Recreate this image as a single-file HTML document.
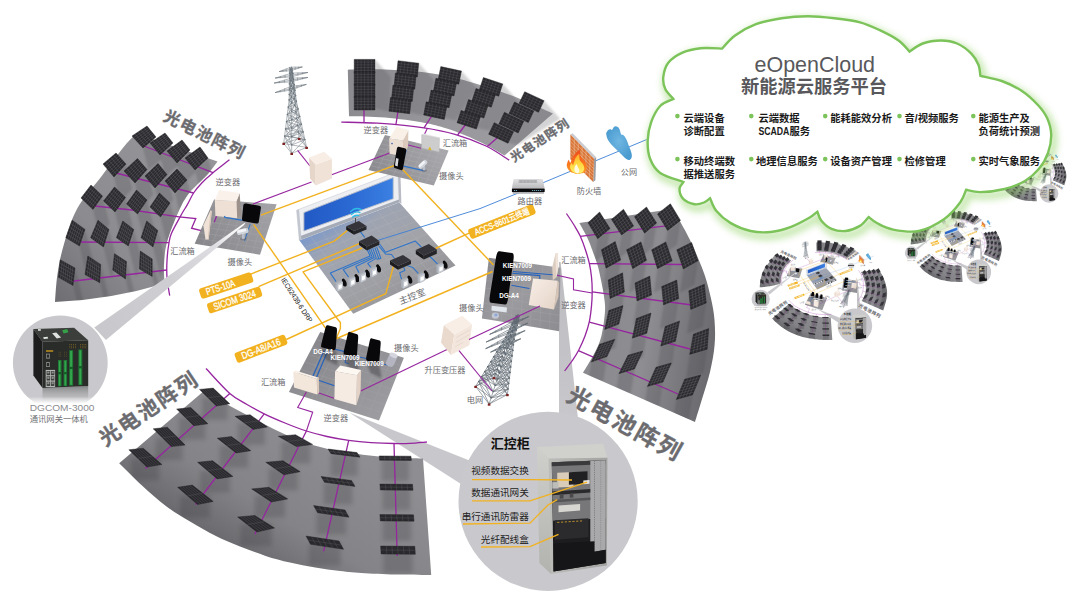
<!DOCTYPE html>
<html lang="zh-CN">
<head>
<meta charset="utf-8">
<title>eOpenCloud 新能源云服务平台</title>
<style>html,body{margin:0;padding:0;background:#fff}body{width:1087px;height:604px;overflow:hidden}svg{display:block}text{font-family:"Liberation Sans", "Noto Sans CJK SC", sans-serif}</style>
</head>
<body>
<svg width="1087" height="604" viewBox="0 0 1087 604">
<defs>
<linearGradient id="gL" gradientUnits="userSpaceOnUse" x1="60" y1="300" x2="215" y2="160"><stop offset="0" stop-color="#707074"/><stop offset=".35" stop-color="#8c8c90"/><stop offset="1" stop-color="#96969a"/></linearGradient>
<linearGradient id="gT" gradientUnits="userSpaceOnUse" x1="350" y1="90" x2="550" y2="130"><stop offset="0" stop-color="#8c8c90"/><stop offset=".5" stop-color="#99999d"/><stop offset="1" stop-color="#9d9da1"/></linearGradient>
<linearGradient id="gR" gradientUnits="userSpaceOnUse" x1="585" y1="300" x2="715" y2="320"><stop offset="0" stop-color="#8a8a8e"/><stop offset=".5" stop-color="#8e8e92"/><stop offset="1" stop-color="#6c6c70"/></linearGradient>
<linearGradient id="gB" gradientUnits="userSpaceOnUse" x1="330" y1="440" x2="250" y2="570"><stop offset="0" stop-color="#8e8e92"/><stop offset=".6" stop-color="#848488"/><stop offset="1" stop-color="#66666a"/></linearGradient>
<filter id="blur2" x="-30%" y="-30%" width="160%" height="160%"><feGaussianBlur stdDeviation="2"/></filter>
<filter id="blur1" x="-30%" y="-30%" width="160%" height="160%"><feGaussianBlur stdDeviation="1.2"/></filter>
<filter id="blur3" x="-30%" y="-30%" width="160%" height="160%"><feGaussianBlur stdDeviation="3.5"/></filter>
<linearGradient id="gScr" x1="0" y1="0" x2="1" y2="0"><stop offset="0" stop-color="#2259c4"/><stop offset=".5" stop-color="#2a68d2"/><stop offset="1" stop-color="#3b80e2"/></linearGradient>
<linearGradient id="gFloor" gradientUnits="userSpaceOnUse" x1="340" y1="215" x2="400" y2="300"><stop offset="0" stop-color="#7f9ac8"/><stop offset=".22" stop-color="#9ea4b2"/><stop offset=".6" stop-color="#a2a3a8"/><stop offset="1" stop-color="#97979b"/></linearGradient>
<linearGradient id="gBeam1" gradientUnits="userSpaceOnUse" x1="243" y1="224" x2="100" y2="335"><stop offset="0" stop-color="#ffffff"/><stop offset=".1" stop-color="#f2f2f4"/><stop offset=".2" stop-color="#dedee2"/><stop offset=".5" stop-color="#cfcfd3"/><stop offset="1" stop-color="#c8c8cc"/></linearGradient>
<linearGradient id="gBeam2" gradientUnits="userSpaceOnUse" x1="560" y1="262" x2="565" y2="420"><stop offset="0" stop-color="#bdbdc1"/><stop offset="1" stop-color="#c8c8cc"/></linearGradient>
<linearGradient id="gPT" gradientUnits="userSpaceOnUse" x1="440" y1="145" x2="375" y2="175"><stop offset="0" stop-color="#a8a8ac"/><stop offset="1" stop-color="#8c8c90"/></linearGradient><linearGradient id="gPL" gradientUnits="userSpaceOnUse" x1="270" y1="205" x2="200" y2="245"><stop offset="0" stop-color="#a2a2a6"/><stop offset="1" stop-color="#88888c"/></linearGradient><linearGradient id="gPB" gradientUnits="userSpaceOnUse" x1="325" y1="335" x2="375" y2="415"><stop offset="0" stop-color="#88888c"/><stop offset="1" stop-color="#9c9ca0"/></linearGradient>
<linearGradient id="gPR" gradientUnits="userSpaceOnUse" x1="490" y1="260" x2="555" y2="330"><stop offset="0" stop-color="#8a8a8e"/><stop offset=".5" stop-color="#9b9b9f"/><stop offset="1" stop-color="#8e8e92"/></linearGradient>
<linearGradient id="gInvR" x1="0" y1="0" x2="1" y2="1"><stop offset="0" stop-color="#f8efe8"/><stop offset="1" stop-color="#e4d3c6"/></linearGradient>
<linearGradient id="gRt" x1="0" y1="0" x2="0" y2="1"><stop offset="0" stop-color="#f2f2f4"/><stop offset=".55" stop-color="#c2c4c8"/><stop offset=".56" stop-color="#1c1c20"/><stop offset="1" stop-color="#2a2a30"/></linearGradient>
<linearGradient id="gFl" x1="0" y1="1" x2="0" y2="0"><stop offset="0" stop-color="#ffe680"/><stop offset=".45" stop-color="#ff9a1f"/><stop offset="1" stop-color="#f0521c"/></linearGradient>
<linearGradient id="gPc" x1="0" y1="0" x2="1" y2="1"><stop offset="0" stop-color="#3f97d6"/><stop offset="1" stop-color="#6cb8e6"/></linearGradient>
<linearGradient id="gRt2" x1="0" y1="0" x2="0" y2="1"><stop offset="0" stop-color="#e4e4e6"/><stop offset="1" stop-color="#b9b9bc"/></linearGradient>
<linearGradient id="gFl2" x1="0" y1="1" x2="0" y2="0"><stop offset="0" stop-color="#ff9c20"/><stop offset=".5" stop-color="#f8701e"/><stop offset="1" stop-color="#ee4a1c"/></linearGradient><linearGradient id="gFl3" x1="0" y1="1" x2="0" y2="0"><stop offset="0" stop-color="#fff06a"/><stop offset=".6" stop-color="#ffd23a"/><stop offset="1" stop-color="#ffa52a"/></linearGradient>
<radialGradient id="gPc2" cx=".5" cy=".45" r=".55"><stop offset="0" stop-color="#6fb6e2"/><stop offset="1" stop-color="#4a9bd0"/></radialGradient>
<linearGradient id="gRef" x1="0" y1="0" x2="0" y2="1"><stop offset="0" stop-color="#4a4c4a" stop-opacity=".55"/><stop offset="1" stop-color="#c8c8cc" stop-opacity="0"/></linearGradient>
<linearGradient id="gFade" x1="0" y1="0" x2="0" y2="1"><stop offset="0" stop-color="#fff" stop-opacity="0"/><stop offset=".45" stop-color="#fff" stop-opacity="1"/><stop offset="1" stop-color="#fff"/></linearGradient>
<linearGradient id="gCab" x1="0" y1="0" x2="1" y2="0"><stop offset="0" stop-color="#bcbcb9"/><stop offset="1" stop-color="#a2a2a0"/></linearGradient>
<linearGradient id="gCabS" x1="0" y1="0" x2="0" y2="1"><stop offset="0" stop-color="#cfcfcb"/><stop offset="1" stop-color="#b2b2ae"/></linearGradient>
<path id="cloudp" d="M673.4,99 C672,97.3 667,92.7 665.3,89 C663.6,85.3 662.8,81.3 663.3,76.9 C663.8,72.5 665.1,66.8 668.3,62.7 C671.5,58.7 677.1,55 682.5,52.6 C687.9,50.2 694.1,48.9 700.7,48.2 C707.3,47.5 718.5,48.5 722,48.6 C724.2,46.4 729.5,39.4 735.1,35.4 C740.7,31.3 747.6,27.2 755.4,24.3 C763.2,21.4 772.9,19.6 781.7,18.2 C790.5,16.8 799.2,16.2 808,16.2 C816.8,16.2 825.6,17.2 834.3,18.2 C843,19.2 852.4,20.3 860,22.3 C867.6,24.3 873.8,27.4 880.2,30.4 C886.6,33.4 893.6,37 898.5,40.5 C903.4,44 907.8,49.8 909.6,51.6 C911.8,50.2 917.5,45.4 922.7,43.5 C927.9,41.6 935.3,40.5 941,40.5 C946.7,40.5 952.1,41.3 957.1,43.5 C962.1,45.7 967.8,50.1 971.3,53.6 C974.8,57.1 976.9,61.1 978.4,64.8 C979.9,68.5 980.1,74.1 980.4,75.9 C984,76.8 994.8,78.5 1001.7,81 C1008.6,83.5 1015.8,87 1021.9,91 C1028,95 1033.9,100.7 1038.1,105.2 C1042.3,109.7 1044.9,113.1 1047.1,118 C1049.3,122.9 1051,128.6 1051.2,134.4 C1051.4,140.2 1050.1,146.9 1048.1,152.6 C1046.1,158.3 1042.9,164.1 1039,168.8 C1035.1,173.5 1030.6,177.6 1024.9,181 C1019.2,184.4 1012,187.2 1004.6,189 C997.2,190.8 986.7,192 980.3,192.1 C973.9,192.2 968.5,190.2 966.1,189.8 C965.1,191.9 963.9,197.4 960.3,202.3 C956.7,207.2 951.2,214.2 944.3,219 C937.4,223.8 927.3,229.2 918.8,231 C910.3,232.8 900.1,230.9 893.2,229.6 C886.3,228.3 881.4,225.4 877.3,223.3 C873.2,221.2 870,218.1 868.6,217 C867.1,218.5 863.7,223.6 859.9,225.9 C856.1,228.2 850.4,230.5 845.7,231 C841,231.5 835.7,230.6 831.6,228.9 C827.5,227.2 823.8,223.7 821.4,220.8 C819,217.9 818.1,213.2 817.4,211.7 C816,212.7 813.7,215.3 809.3,217.8 C804.9,220.3 797.5,224.5 791.1,226.9 C784.7,229.3 777.5,231.3 770.8,232 C764,232.7 757.3,232.5 750.6,231 C743.9,229.5 736.1,226.3 730.4,222.9 C724.7,219.5 719.6,214.8 716.2,210.7 C712.8,206.6 711.1,200.3 710.1,198.2 C709.1,198.9 706.6,201.5 704,202.5 C701.4,203.5 698,204.8 694.6,204.2 C691.2,203.6 686,201.7 683.5,199.2 C681,196.7 679.5,191.9 679.5,189 C679.5,186.1 682.8,183.2 683.5,182 C679.6,180.5 665.8,176.8 660.2,172.9 C654.6,169 652.2,164.1 650.1,158.7 C648,153.3 647.5,146.6 647.7,140.5 C647.9,134.4 649,128.1 651.1,122.3 C653.2,116.5 656.5,109.9 660.2,106 C663.9,102.1 671.2,100.2 673.4,99Z"/>
</defs>
<rect width="1087" height="604" fill="#fff"/>
<g id="main">
<circle cx="60.3" cy="362.8" r="47.4" fill="#c9c9cd"/>
<polygon points="559,262 560.6,262 579.5,432 559,432" fill="url(#gBeam2)"/>
<polygon points="349,412.5 482,465.5 472,491" fill="#c8c8cc"/>
<circle cx="548.1" cy="501.3" r="89.6" fill="#c9c9cd"/>
<clipPath id="cL"><path d="M136.5,133.5C134.5,135.6 130.2,139.1 124.5,146 C118.8,152.9 110.3,164.7 102.5,175 C94.7,185.3 83.9,196.5 77.5,208 C71.1,219.5 67.3,233 64,244 C60.7,255 59,264.3 57.5,274 C56,283.7 55.4,297.3 55,302 Q110,299.8 164.5,283.5 C164.4,280.4 163.7,271.6 164,265 C164.3,258.4 164.7,251.5 166.5,244 C168.3,236.5 171.6,228 175,220 C178.4,212 181.5,203.7 187,196 C192.5,188.3 202.9,179.7 208,174 C213.1,168.3 215.9,163.7 217.5,161.6Z"/></clipPath>
<path d="M136.5,133.5C134.5,135.6 130.2,139.1 124.5,146 C118.8,152.9 110.3,164.7 102.5,175 C94.7,185.3 83.9,196.5 77.5,208 C71.1,219.5 67.3,233 64,244 C60.7,255 59,264.3 57.5,274 C56,283.7 55.4,297.3 55,302 Q110,299.8 164.5,283.5 C164.4,280.4 163.7,271.6 164,265 C164.3,258.4 164.7,251.5 166.5,244 C168.3,236.5 171.6,228 175,220 C178.4,212 181.5,203.7 187,196 C192.5,188.3 202.9,179.7 208,174 C213.1,168.3 215.9,163.7 217.5,161.6Z" fill="url(#gL)"/>
<g clip-path="url(#cL)"><polygon points="156,137 143,148 148.5,170 161.5,159" fill="#3a3a40" opacity="0.2" filter="url(#blur1)"/><polygon points="173,143 160,155 165.5,177 178.5,165" fill="#3a3a40" opacity="0.2" filter="url(#blur1)"/><polygon points="190,150 177,163 182.5,185 195.5,172" fill="#3a3a40" opacity="0.2" filter="url(#blur1)"/><polygon points="208,158 195,170 200.5,192 213.5,180" fill="#3a3a40" opacity="0.2" filter="url(#blur1)"/><polygon points="126,164 114,177 120.2,202 132.2,189" fill="#3a3a40" opacity="0.2" filter="url(#blur1)"/><polygon points="147,169.5 135,183 141.2,208 153.2,194.5" fill="#3a3a40" opacity="0.2" filter="url(#blur1)"/><polygon points="167,174.5 155,188 161.2,213 173.2,199.5" fill="#3a3a40" opacity="0.2" filter="url(#blur1)"/><polygon points="187,180 175,193 181.2,218 193.2,205" fill="#3a3a40" opacity="0.2" filter="url(#blur1)"/><polygon points="102.5,196 93,209.5 100,237.5 109.5,224" fill="#3a3a40" opacity="0.2" filter="url(#blur1)"/><polygon points="125.5,197.5 115,212 122,240 132.5,225.5" fill="#3a3a40" opacity="0.2" filter="url(#blur1)"/><polygon points="147,200 137.5,214 144.5,242 154,228" fill="#3a3a40" opacity="0.2" filter="url(#blur1)"/><polygon points="170,203 160.5,217 167.5,245 177,231" fill="#3a3a40" opacity="0.2" filter="url(#blur1)"/><polygon points="85,229.4 79.5,246 87.2,277 92.8,260.4" fill="#3a3a40" opacity="0.2" filter="url(#blur1)"/><polygon points="109,229.4 103.5,247 111.2,278 116.8,260.4" fill="#3a3a40" opacity="0.2" filter="url(#blur1)"/><polygon points="133.8,229.4 128.3,246 136.1,277 141.6,260.4" fill="#3a3a40" opacity="0.2" filter="url(#blur1)"/><polygon points="157.8,230.4 153,247 160.8,278 165.6,261.4" fill="#3a3a40" opacity="0.2" filter="url(#blur1)"/><polygon points="75,268 73,285.5 81.5,319.5 83.5,302" fill="#3a3a40" opacity="0.2" filter="url(#blur1)"/><polygon points="100.7,264.4 99.8,282.8 108.3,316.8 109.2,298.4" fill="#3a3a40" opacity="0.2" filter="url(#blur1)"/><polygon points="126.5,261.6 125.5,279 134,313 135,295.6" fill="#3a3a40" opacity="0.2" filter="url(#blur1)"/><polygon points="152.2,259 152.2,276.4 160.7,310.4 160.7,293" fill="#3a3a40" opacity="0.2" filter="url(#blur1)"/></g>
<path d="M229.5,159.8C226.8,162 217.6,168.9 213,172.7 C208.4,176.5 205.2,179.4 202,182.8 C198.8,186.2 196.1,189.3 193.6,193 C191.1,196.7 189.2,201.4 187.2,204.9 C185.2,208.4 184.3,209.3 181.7,214 C179.1,218.7 173.8,228 171.6,233 C169.4,238 169.6,239.4 168.8,244 C168,248.6 167.3,255.1 167,260.7 C166.7,266.2 166.6,271.5 167,277.3 C167.4,283.1 169.2,292.6 169.7,295.7" fill="none" stroke="#96259f" stroke-width="1.3"/>
<polyline points="140,144.5 213,172.7" fill="none" stroke="#96259f" stroke-width="1.3"/>
<polyline points="112,172 193.6,193" fill="none" stroke="#96259f" stroke-width="1.3"/>
<polyline points="90,205.5 132,210 179,216.8" fill="none" stroke="#96259f" stroke-width="1.3"/>
<polyline points="76,242 168.8,242.7" fill="none" stroke="#96259f" stroke-width="1.3"/>
<polyline points="70,281.5 167,270" fill="none" stroke="#96259f" stroke-width="1.3"/>
<polyline points="179,216.8 195.8,218.6 191.6,228.2 203.4,231.2" fill="none" stroke="#96259f" stroke-width="1.3"/>
<polygon points="132,136 147,126 156,137 143,148" fill="#2a2a2e" stroke="#1e1e22" stroke-width="0.4"/><path d="M135,134L145.6,145.8M138,132L148.2,143.6M141,130L150.8,141.4M144,128L153.4,139.2M133.6,137.7L148.3,127.6M135.1,139.4L149.6,129.1M136.7,141.1L150.9,130.7M138.3,142.9L152.1,132.3M139.9,144.6L153.4,133.9M141.4,146.3L154.7,135.4" fill="none" stroke="#65656d" stroke-width="0.4"/>
<polygon points="150,143 165,133 173,143 160,155" fill="#2a2a2e" stroke="#1e1e22" stroke-width="0.4"/><path d="M153,141L162.6,152.6M156,139L165.2,150.2M159,137L167.8,147.8M162,135L170.4,145.4M151.4,144.7L166.1,134.4M152.9,146.4L167.3,135.9M154.3,148.1L168.4,137.3M155.7,149.9L169.6,138.7M157.1,151.6L170.7,140.1M158.6,153.3L171.9,141.6" fill="none" stroke="#65656d" stroke-width="0.4"/>
<polygon points="167,151 182,140 190,150 177,163" fill="#2a2a2e" stroke="#1e1e22" stroke-width="0.4"/><path d="M170,148.8L179.6,160.4M173,146.6L182.2,157.8M176,144.4L184.8,155.2M179,142.2L187.4,152.6M168.4,152.7L183.1,141.4M169.9,154.4L184.3,142.9M171.3,156.1L185.4,144.3M172.7,157.9L186.6,145.7M174.1,159.6L187.7,147.1M175.6,161.3L188.9,148.6" fill="none" stroke="#65656d" stroke-width="0.4"/>
<polygon points="185,158 200,147 208,158 195,170" fill="#2a2a2e" stroke="#1e1e22" stroke-width="0.4"/><path d="M188,155.8L197.6,167.6M191,153.6L200.2,165.2M194,151.4L202.8,162.8M197,149.2L205.4,160.4M186.4,159.7L201.1,148.6M187.9,161.4L202.3,150.1M189.3,163.1L203.4,151.7M190.7,164.9L204.6,153.3M192.1,166.6L205.7,154.9M193.6,168.3L206.9,156.4" fill="none" stroke="#65656d" stroke-width="0.4"/>
<polygon points="103,164 116,153 126,164 114,177" fill="#2a2a2e" stroke="#1e1e22" stroke-width="0.4"/><path d="M105.6,161.8L116.4,174.4M108.2,159.6L118.8,171.8M110.8,157.4L121.2,169.2M113.4,155.2L123.6,166.6M104.6,165.9L117.4,154.6M106.1,167.7L118.9,156.1M107.7,169.6L120.3,157.7M109.3,171.4L121.7,159.3M110.9,173.3L123.1,160.9M112.4,175.1L124.6,162.4" fill="none" stroke="#65656d" stroke-width="0.4"/>
<polygon points="124,171 137.5,158.5 147,169.5 135,183" fill="#2a2a2e" stroke="#1e1e22" stroke-width="0.4"/><path d="M126.7,168.5L137.4,180.3M129.4,166L139.8,177.6M132.1,163.5L142.2,174.9M134.8,161L144.6,172.2M125.6,172.7L138.9,160.1M127.1,174.4L140.2,161.6M128.7,176.1L141.6,163.2M130.3,177.9L142.9,164.8M131.9,179.6L144.3,166.4M133.4,181.3L145.6,167.9" fill="none" stroke="#65656d" stroke-width="0.4"/>
<polygon points="145,176 158,163.5 167,174.5 155,188" fill="#2a2a2e" stroke="#1e1e22" stroke-width="0.4"/><path d="M147.6,173.5L157.4,185.3M150.2,171L159.8,182.6M152.8,168.5L162.2,179.9M155.4,166L164.6,177.2M146.4,177.7L159.3,165.1M147.9,179.4L160.6,166.6M149.3,181.1L161.9,168.2M150.7,182.9L163.1,169.8M152.1,184.6L164.4,171.4M153.6,186.3L165.7,172.9" fill="none" stroke="#65656d" stroke-width="0.4"/>
<polygon points="165,181 177,169 187,180 175,193" fill="#2a2a2e" stroke="#1e1e22" stroke-width="0.4"/><path d="M167.4,178.6L177.4,190.4M169.8,176.2L179.8,187.8M172.2,173.8L182.2,185.2M174.6,171.4L184.6,182.6M166.4,182.7L178.4,170.6M167.9,184.4L179.9,172.1M169.3,186.1L181.3,173.7M170.7,187.9L182.7,175.3M172.1,189.6L184.1,176.9M173.6,191.3L185.6,178.4" fill="none" stroke="#65656d" stroke-width="0.4"/>
<polygon points="81,198 91,185 102.5,196 93,209.5" fill="#2a2a2e" stroke="#1e1e22" stroke-width="0.4"/><path d="M83,195.4L94.9,206.8M85,192.8L96.8,204.1M87,190.2L98.7,201.4M89,187.6L100.6,198.7M82.7,199.6L92.6,186.6M84.4,201.3L94.3,188.1M86.1,202.9L95.9,189.7M87.9,204.6L97.6,191.3M89.6,206.2L99.2,192.9M91.3,207.9L100.9,194.4" fill="none" stroke="#65656d" stroke-width="0.4"/>
<polygon points="103.5,201 114.5,187 125.5,197.5 115,212" fill="#2a2a2e" stroke="#1e1e22" stroke-width="0.4"/><path d="M105.7,198.2L117.1,209.1M107.9,195.4L119.2,206.2M110.1,192.6L121.3,203.3M112.3,189.8L123.4,200.4M105.1,202.6L116.1,188.5M106.8,204.1L117.6,190M108.4,205.7L119.2,191.5M110.1,207.3L120.8,193M111.7,208.9L122.4,194.5M113.4,210.4L123.9,196" fill="none" stroke="#65656d" stroke-width="0.4"/>
<polygon points="126.5,204 136.5,190 147,200 137.5,214" fill="#2a2a2e" stroke="#1e1e22" stroke-width="0.4"/><path d="M128.5,201.2L139.4,211.2M130.5,198.4L141.3,208.4M132.5,195.6L143.2,205.6M134.5,192.8L145.1,202.8M128.1,205.4L138,191.4M129.6,206.9L139.5,192.9M131.2,208.3L141,194.3M132.8,209.7L142.5,195.7M134.4,211.1L144,197.1M135.9,212.6L145.5,198.6" fill="none" stroke="#65656d" stroke-width="0.4"/>
<polygon points="150,207 159.5,193 170,203 160.5,217" fill="#2a2a2e" stroke="#1e1e22" stroke-width="0.4"/><path d="M151.9,204.2L162.4,214.2M153.8,201.4L164.3,211.4M155.7,198.6L166.2,208.6M157.6,195.8L168.1,205.8M151.5,208.4L161,194.4M153,209.9L162.5,195.9M154.5,211.3L164,197.3M156,212.7L165.5,198.7M157.5,214.1L167,200.1M159,215.6L168.5,201.6" fill="none" stroke="#65656d" stroke-width="0.4"/>
<polygon points="65.8,237.7 72.2,220.2 85,229.4 79.5,246" fill="#2a2a2e" stroke="#1e1e22" stroke-width="0.4"/><path d="M67.1,234.2L80.6,242.7M68.4,230.7L81.7,239.4M69.6,227.2L82.8,236M70.9,223.7L83.9,232.7M67.8,238.9L74,221.5M69.7,240.1L75.9,222.8M71.7,241.3L77.7,224.1M73.6,242.4L79.5,225.5M75.6,243.6L81.3,226.8M77.5,244.8L83.2,228.1" fill="none" stroke="#65656d" stroke-width="0.4"/>
<polygon points="90.6,237.7 98,220.2 109,229.4 103.5,247" fill="#2a2a2e" stroke="#1e1e22" stroke-width="0.4"/><path d="M92.1,234.2L104.6,243.5M93.6,230.7L105.7,240M95,227.2L106.8,236.4M96.5,223.7L107.9,232.9M92.4,239L99.6,221.5M94.3,240.4L101.1,222.8M96.1,241.7L102.7,224.1M98,243L104.3,225.5M99.8,244.3L105.9,226.8M101.7,245.7L107.4,228.1" fill="none" stroke="#65656d" stroke-width="0.4"/>
<polygon points="116.4,237.7 122.8,221 133.8,229.4 128.3,246" fill="#2a2a2e" stroke="#1e1e22" stroke-width="0.4"/><path d="M117.7,234.4L129.4,242.7M119,231L130.5,239.4M120.2,227.7L131.6,236M121.5,224.3L132.7,232.7M118.1,238.9L124.4,222.2M119.8,240.1L125.9,223.4M121.5,241.3L127.5,224.6M123.2,242.4L129.1,225.8M124.9,243.6L130.7,227M126.6,244.8L132.2,228.2" fill="none" stroke="#65656d" stroke-width="0.4"/>
<polygon points="141,237.7 146.7,221 157.8,230.4 153,247" fill="#2a2a2e" stroke="#1e1e22" stroke-width="0.4"/><path d="M142.1,234.4L154,243.7M143.3,231L154.9,240.4M144.4,227.7L155.9,237M145.6,224.3L156.8,233.7M142.7,239L148.3,222.3M144.4,240.4L149.9,223.7M146.1,241.7L151.5,225M147.9,243L153,226.4M149.6,244.3L154.6,227.7M151.3,245.7L156.2,229.1" fill="none" stroke="#65656d" stroke-width="0.4"/>
<polygon points="58.4,277.3 60.2,259.8 75,268 73,285.5" fill="#2a2a2e" stroke="#1e1e22" stroke-width="0.4"/><path d="M58.8,273.8L73.4,282M59.1,270.3L73.8,278.5M59.5,266.8L74.2,275M59.8,263.3L74.6,271.5M60.5,278.5L62.3,261M62.6,279.6L64.4,262.1M64.7,280.8L66.5,263.3M66.7,282L68.7,264.5M68.8,283.2L70.8,265.7M70.9,284.3L72.9,266.8" fill="none" stroke="#65656d" stroke-width="0.4"/>
<polygon points="85,274.5 87.8,256 100.7,264.4 99.8,282.8" fill="#2a2a2e" stroke="#1e1e22" stroke-width="0.4"/><path d="M85.6,270.8L100,279.1M86.1,267.1L100.2,275.4M86.7,263.4L100.3,271.8M87.2,259.7L100.5,268.1M87.1,275.7L89.6,257.2M89.2,276.9L91.5,258.4M91.3,278.1L93.3,259.6M93.5,279.2L95.2,260.8M95.6,280.4L97,262M97.7,281.6L98.9,263.2" fill="none" stroke="#65656d" stroke-width="0.4"/>
<polygon points="112.7,270 114.5,253.7 126.5,261.6 125.5,279" fill="#2a2a2e" stroke="#1e1e22" stroke-width="0.4"/><path d="M113.1,266.7L125.7,275.5M113.4,263.5L125.9,272M113.8,260.2L126.1,268.6M114.1,257L126.3,265.1M114.5,271.3L116.2,254.8M116.4,272.6L117.9,256M118.2,273.9L119.6,257.1M120,275.1L121.4,258.2M121.8,276.4L123.1,259.3M123.7,277.7L124.8,260.5" fill="none" stroke="#65656d" stroke-width="0.4"/>
<polygon points="139.4,269 140.3,251 152.2,259 152.2,276.4" fill="#2a2a2e" stroke="#1e1e22" stroke-width="0.4"/><path d="M139.6,265.4L152.2,272.9M139.8,261.8L152.2,269.4M139.9,258.2L152.2,266M140.1,254.6L152.2,262.5M141.2,270.1L142,252.1M143.1,271.1L143.7,253.3M144.9,272.2L145.4,254.4M146.7,273.2L147.1,255.6M148.5,274.3L148.8,256.7M150.4,275.3L150.5,257.9" fill="none" stroke="#65656d" stroke-width="0.4"/>
<path d="M347.8,69.7C354,69.7 372.3,69.1 385,69.5 C397.7,69.9 412.3,70.9 424,72.3 C435.7,73.7 445.5,75.8 455,78 C464.5,80.2 470.3,81.9 480.8,85.2 C491.3,88.5 506,93.3 518,98 C530,102.7 547.2,111 553,113.6 L504.5,155.5C501.6,153.8 493.6,148.9 487,145.5 C480.4,142.1 472,138.2 465,135.3 C458,132.4 451.8,130.1 445,128 C438.2,125.9 434,124.5 424,122.7 C414,121 397.5,118.6 385,117.5 C372.5,116.4 355,116.4 349,116.2Z" fill="url(#gT)"/>
<path d="M341.3,122.1C347.3,122.3 363.7,122.2 377.5,123.2 C391.3,124.2 411.1,125.9 424,127.8 C436.9,129.7 444.7,131.3 455,134.3 C465.3,137.3 477,141.7 486,146 C495,150.3 505.3,157.8 509.2,160.1" fill="none" stroke="#96259f" stroke-width="1.3"/>
<polyline points="364,105 364,122.6" fill="none" stroke="#96259f" stroke-width="1.3"/>
<polyline points="398.5,108 396,124.2" fill="none" stroke="#96259f" stroke-width="1.3"/>
<polyline points="433,114 424,127.8" fill="none" stroke="#96259f" stroke-width="1.3"/>
<polyline points="466,124 457.6,135" fill="none" stroke="#96259f" stroke-width="1.3"/>
<polyline points="497,138 487.3,146.5" fill="none" stroke="#96259f" stroke-width="1.3"/>
<polygon points="375,59.4 375,108.5 389,111.5 391,77.4" fill="#55555a" opacity="0.25" filter="url(#blur1)"/>
<polygon points="418.8,63.2 408.5,112.3 422.5,115.3 434.8,81.2" fill="#55555a" opacity="0.25" filter="url(#blur1)"/>
<polygon points="461.5,71 442,117.5 456,120.5 477.5,89" fill="#55555a" opacity="0.25" filter="url(#blur1)"/>
<polygon points="502.8,83.9 475.7,127.8 489.7,130.8 518.8,101.9" fill="#55555a" opacity="0.25" filter="url(#blur1)"/>
<polygon points="544.1,100.7 504,142 518,145 560.1,118.7" fill="#55555a" opacity="0.25" filter="url(#blur1)"/>
<polygon points="354.2,59.4 375,59.4 375,73.1 354.2,73.1" fill="#2a2a2e" stroke="#1e1e22" stroke-width="0.4"/><path d="M357.7,59.4L357.7,73.1M361.1,59.4L361.1,73.1M364.6,59.4L364.6,73.1M368.1,59.4L368.1,73.1M371.5,59.4L371.5,73.1M354.2,62.1L375,62.1M354.2,64.9L375,64.9M354.2,67.6L375,67.6M354.2,70.4L375,70.4" fill="none" stroke="#65656d" stroke-width="0.3"/>
<polygon points="354.2,71.7 375,71.7 375,85.4 354.2,85.4" fill="#2a2a2e" stroke="#1e1e22" stroke-width="0.4"/><path d="M357.7,71.7L357.7,85.4M361.1,71.7L361.1,85.4M364.6,71.7L364.6,85.4M368.1,71.7L368.1,85.4M371.5,71.7L371.5,85.4M354.2,74.4L375,74.4M354.2,77.2L375,77.2M354.2,79.9L375,79.9M354.2,82.7L375,82.7" fill="none" stroke="#65656d" stroke-width="0.3"/>
<polygon points="354.2,84 375,84 375,97.7 354.2,97.7" fill="#2a2a2e" stroke="#1e1e22" stroke-width="0.4"/><path d="M357.7,84L357.7,97.7M361.1,84L361.1,97.7M364.6,84L364.6,97.7M368.1,84L368.1,97.7M371.5,84L371.5,97.7M354.2,86.7L375,86.7M354.2,89.4L375,89.4M354.2,92.2L375,92.2M354.2,94.9L375,94.9" fill="none" stroke="#65656d" stroke-width="0.3"/>
<polygon points="354.2,96.2 375,96.2 375,110 354.2,110" fill="#2a2a2e" stroke="#1e1e22" stroke-width="0.4"/><path d="M357.7,96.2L357.7,110M361.1,96.2L361.1,110M364.6,96.2L364.6,110M368.1,96.2L368.1,110M371.5,96.2L371.5,110M354.2,99L375,99M354.2,101.7L375,101.7M354.2,104.5L375,104.5M354.2,107.2L375,107.2" fill="none" stroke="#65656d" stroke-width="0.3"/>
<polygon points="398,60.7 418.8,63.2 417.4,76.9 396.6,74.4" fill="#2a2a2e" stroke="#1e1e22" stroke-width="0.4"/><path d="M401.5,61.1L400.1,74.8M404.9,61.5L403.5,75.3M408.4,62L407,75.7M411.9,62.4L410.5,76.1M415.3,62.8L413.9,76.5M397.7,63.4L418.5,65.9M397.4,66.2L418.2,68.7M397.2,68.9L418,71.4M396.9,71.7L417.7,74.2" fill="none" stroke="#65656d" stroke-width="0.3"/>
<polygon points="395.4,73 416.2,75.5 414.8,89.2 394,86.7" fill="#2a2a2e" stroke="#1e1e22" stroke-width="0.4"/><path d="M398.9,73.4L397.5,87.1M402.4,73.8L401,87.5M405.9,74.2L404.4,87.9M409.3,74.6L407.9,88.3M412.8,75L411.4,88.8M395.2,75.7L416,78.2M394.9,78.4L415.7,80.9M394.6,81.2L415.4,83.7M394.3,83.9L415.1,86.4" fill="none" stroke="#65656d" stroke-width="0.3"/>
<polygon points="392.9,85.2 413.7,87.7 412.3,101.4 391.5,98.9" fill="#2a2a2e" stroke="#1e1e22" stroke-width="0.4"/><path d="M396.4,85.6L395,99.3M399.8,86L398.4,99.8M403.3,86.5L401.9,100.2M406.8,86.9L405.4,100.6M410.2,87.3L408.8,101M392.6,87.9L413.4,90.4M392.3,90.7L413.1,93.2M392.1,93.4L412.9,95.9M391.8,96.2L412.6,98.7" fill="none" stroke="#65656d" stroke-width="0.3"/>
<polygon points="390.4,97.5 411.2,100 409.7,113.7 388.9,111.2" fill="#2a2a2e" stroke="#1e1e22" stroke-width="0.4"/><path d="M393.8,97.9L392.4,111.6M397.3,98.3L395.9,112M400.8,98.7L399.3,112.4M404.2,99.1L402.8,112.8M407.7,99.5L406.3,113.3M390.1,100.2L410.9,102.7M389.8,102.9L410.6,105.4M389.5,105.7L410.3,108.2M389.2,108.4L410,110.9" fill="none" stroke="#65656d" stroke-width="0.3"/>
<polygon points="440.8,66.6 461.5,71 458.8,84.2 438.1,79.8" fill="#2a2a2e" stroke="#1e1e22" stroke-width="0.4"/><path d="M444.2,67.3L441.6,80.5M447.7,68.1L445,81.2M451.1,68.8L448.5,82M454.6,69.5L451.9,82.7M458.1,70.3L455.4,83.4M440.3,69.2L461,73.6M439.7,71.9L460.4,76.3M439.2,74.5L459.9,78.9M438.7,77.1L459.4,81.5" fill="none" stroke="#65656d" stroke-width="0.3"/>
<polygon points="435.9,78.3 456.6,82.8 454,95.9 433.3,91.5" fill="#2a2a2e" stroke="#1e1e22" stroke-width="0.4"/><path d="M439.4,79.1L436.7,92.2M442.8,79.8L440.2,93M446.3,80.5L443.6,93.7M449.8,81.3L447.1,94.4M453.2,82L450.5,95.2M435.4,81L456.1,85.4M434.9,83.6L455.6,88M434.3,86.2L455,90.6M433.8,88.9L454.5,93.3" fill="none" stroke="#65656d" stroke-width="0.3"/>
<polygon points="431.1,90.1 451.8,94.5 449.1,107.7 428.4,103.3" fill="#2a2a2e" stroke="#1e1e22" stroke-width="0.4"/><path d="M434.6,90.8L431.9,104M438,91.6L435.3,104.7M441.5,92.3L438.8,105.5M444.9,93L442.2,106.2M448.4,93.8L445.7,106.9M430.6,92.7L451.3,97.1M430,95.4L450.7,99.8M429.5,98L450.2,102.4M429,100.6L449.7,105" fill="none" stroke="#65656d" stroke-width="0.3"/>
<polygon points="426.2,101.8 446.9,106.2 444.3,119.4 423.6,115" fill="#2a2a2e" stroke="#1e1e22" stroke-width="0.4"/><path d="M429.7,102.6L427,115.7M433.1,103.3L430.5,116.5M436.6,104L433.9,117.2M440.1,104.8L437.4,117.9M443.5,105.5L440.8,118.7M425.7,104.5L446.4,108.9M425.2,107.1L445.9,111.5M424.6,109.7L445.3,114.1M424.1,112.4L444.8,116.8" fill="none" stroke="#65656d" stroke-width="0.3"/>
<polygon points="483.4,77.5 502.8,83.9 498.7,96.2 479.3,89.8" fill="#2a2a2e" stroke="#1e1e22" stroke-width="0.4"/><path d="M486.6,78.6L482.5,90.9M489.9,79.6L485.8,91.9M493.1,80.7L489,93M496.3,81.8L492.2,94.1M499.6,82.8L495.5,95.1M482.6,80L502,86.4M481.8,82.4L501.2,88.8M480.9,84.9L500.3,91.3M480.1,87.3L499.5,93.7" fill="none" stroke="#65656d" stroke-width="0.3"/>
<polygon points="476,88.5 495.4,94.9 491.3,107.2 471.9,100.8" fill="#2a2a2e" stroke="#1e1e22" stroke-width="0.4"/><path d="M479.2,89.5L475.1,101.8M482.4,90.6L478.4,102.9M485.7,91.7L481.6,104M488.9,92.7L484.8,105M492.1,93.8L488.1,106.1M475.2,90.9L494.6,97.3M474.3,93.4L493.7,99.8M473.5,95.9L492.9,102.3M472.7,98.3L492.1,104.7" fill="none" stroke="#65656d" stroke-width="0.3"/>
<polygon points="468.5,99.5 487.9,105.9 483.9,118.1 464.5,111.7" fill="#2a2a2e" stroke="#1e1e22" stroke-width="0.4"/><path d="M471.8,100.5L467.7,112.8M475,101.6L470.9,113.9M478.2,102.7L474.2,114.9M481.5,103.7L477.4,116M484.7,104.8L480.6,117.1M467.7,101.9L487.1,108.3M466.9,104.4L486.3,110.8M466.1,106.8L485.5,113.2M465.3,109.3L484.7,115.7" fill="none" stroke="#65656d" stroke-width="0.3"/>
<polygon points="461.1,110.4 480.5,116.8 476.4,129.1 457,122.7" fill="#2a2a2e" stroke="#1e1e22" stroke-width="0.4"/><path d="M464.4,111.5L460.3,123.8M467.6,112.6L463.5,124.9M470.8,113.6L466.7,125.9M474.1,114.7L470,127M477.3,115.8L473.2,128.1M460.3,112.9L479.7,119.3M459.5,115.3L478.9,121.7M458.7,117.8L478.1,124.2M457.9,120.3L477.3,126.7" fill="none" stroke="#65656d" stroke-width="0.3"/>
<polygon points="524.7,91.7 544.1,100.7 538.5,112.3 519.1,103.3" fill="#2a2a2e" stroke="#1e1e22" stroke-width="0.4"/><path d="M527.9,93.2L522.3,104.8M531.2,94.7L525.6,106.3M534.4,96.2L528.8,107.8M537.6,97.7L532,109.3M540.9,99.2L535.3,110.8M523.6,94L543,103M522.5,96.3L541.9,105.3M521.3,98.6L540.7,107.6M520.2,101L539.6,110" fill="none" stroke="#65656d" stroke-width="0.3"/>
<polygon points="514.5,102 533.9,111 528.3,122.6 508.9,113.6" fill="#2a2a2e" stroke="#1e1e22" stroke-width="0.4"/><path d="M517.8,103.5L512.2,115.1M521,105L515.4,116.6M524.2,106.5L518.6,118.1M527.5,108L521.9,119.6M530.7,109.5L525.1,121.1M513.4,104.3L532.8,113.3M512.3,106.7L531.7,115.7M511.2,109L530.6,118M510,111.3L529.4,120.3" fill="none" stroke="#65656d" stroke-width="0.3"/>
<polygon points="504.4,112.3 523.8,121.3 518.2,132.9 498.8,123.9" fill="#2a2a2e" stroke="#1e1e22" stroke-width="0.4"/><path d="M507.6,113.8L502,125.4M510.8,115.3L505.2,126.9M514,116.8L508.5,128.4M517.3,118.3L511.7,129.9M520.5,119.8L514.9,131.4M503.2,114.7L522.6,123.7M502.1,117L521.5,126M501,119.3L520.4,128.3M499.9,121.6L519.3,130.6" fill="none" stroke="#65656d" stroke-width="0.3"/>
<polygon points="494.2,122.7 513.6,131.7 508,143.2 488.6,134.2" fill="#2a2a2e" stroke="#1e1e22" stroke-width="0.4"/><path d="M497.4,124.2L491.8,135.7M500.6,125.7L495,137.2M503.9,127.2L498.3,138.7M507.1,128.7L501.5,140.2M510.3,130.2L504.7,141.7M493.1,125L512.5,134M491.9,127.3L511.3,136.3M490.8,129.6L510.2,138.6M489.7,131.9L509.1,140.9" fill="none" stroke="#65656d" stroke-width="0.3"/>
<clipPath id="cR"><path d="M579.3,223C580.6,225.3 584.8,232.4 587,237 C589.2,241.6 590.8,246 592.5,250.7 C594.2,255.4 596.1,260.4 597.5,265 C598.9,269.6 599.6,273.3 600.6,278.3 C601.6,283.3 603.1,289.6 603.8,295 C604.5,300.4 605.4,304.2 605,311 C604.6,317.8 603.2,328.8 601.4,336 C599.6,343.2 597.1,347.9 594,354 C590.9,360.1 584.8,369.7 583,372.8 L695,422C696.1,418.3 699.2,408.3 701.7,400 C704.2,391.7 707.9,381.2 710,372 C712.1,362.8 713.9,353.7 714.6,345 C715.4,336.3 715.1,327.7 714.5,320 C713.9,312.3 712.6,305.9 711,298.6 C709.4,291.3 707.2,282.8 705,276 C702.8,269.2 700.5,264 698,258 C695.5,252 692.9,246 690,240 C687.1,234 683.5,227.4 680.5,222.2 C677.5,217 673.4,211.2 672,209Z"/></clipPath>
<path d="M579.3,223C580.6,225.3 584.8,232.4 587,237 C589.2,241.6 590.8,246 592.5,250.7 C594.2,255.4 596.1,260.4 597.5,265 C598.9,269.6 599.6,273.3 600.6,278.3 C601.6,283.3 603.1,289.6 603.8,295 C604.5,300.4 605.4,304.2 605,311 C604.6,317.8 603.2,328.8 601.4,336 C599.6,343.2 597.1,347.9 594,354 C590.9,360.1 584.8,369.7 583,372.8 L695,422C696.1,418.3 699.2,408.3 701.7,400 C704.2,391.7 707.9,381.2 710,372 C712.1,362.8 713.9,353.7 714.6,345 C715.4,336.3 715.1,327.7 714.5,320 C713.9,312.3 712.6,305.9 711,298.6 C709.4,291.3 707.2,282.8 705,276 C702.8,269.2 700.5,264 698,258 C695.5,252 692.9,246 690,240 C687.1,234 683.5,227.4 680.5,222.2 C677.5,217 673.4,211.2 672,209Z" fill="url(#gR)"/>
<g clip-path="url(#cR)"><polygon points="610,228.6 597.7,238.8 594.1,262.8 606.4,252.6" fill="#3a3a40" opacity="0.2" filter="url(#blur1)"/><polygon points="633.6,225.9 621.6,235 618,259 630,249.9" fill="#3a3a40" opacity="0.2" filter="url(#blur1)"/><polygon points="656.6,223 644.6,233.2 641,257.2 653,247" fill="#3a3a40" opacity="0.2" filter="url(#blur1)"/><polygon points="680.5,220.4 667.6,230.5 664,254.5 676.9,244.4" fill="#3a3a40" opacity="0.2" filter="url(#blur1)"/><polygon points="620.7,260 606,268.2 602.4,292.2 617.1,284" fill="#3a3a40" opacity="0.2" filter="url(#blur1)"/><polygon points="646.5,260.3 632.7,268.7 629.1,292.7 642.9,284.3" fill="#3a3a40" opacity="0.2" filter="url(#blur1)"/><polygon points="672.2,260.8 657.5,268.7 653.9,292.7 668.6,284.8" fill="#3a3a40" opacity="0.2" filter="url(#blur1)"/><polygon points="698,260.8 683.3,269 679.7,293 694.4,284.8" fill="#3a3a40" opacity="0.2" filter="url(#blur1)"/><polygon points="624.4,292 610,298.6 606.4,322.6 620.8,316" fill="#3a3a40" opacity="0.2" filter="url(#blur1)"/><polygon points="651.6,294.9 637,301 633.4,325 648,318.9" fill="#3a3a40" opacity="0.2" filter="url(#blur1)"/><polygon points="678.7,298.6 663.5,305 659.9,329 675.1,322.6" fill="#3a3a40" opacity="0.2" filter="url(#blur1)"/><polygon points="706.3,303 690.7,309.5 687.1,333.5 702.7,327" fill="#3a3a40" opacity="0.2" filter="url(#blur1)"/><polygon points="618.9,324 604.7,329.6 601.1,353.6 615.3,348" fill="#3a3a40" opacity="0.2" filter="url(#blur1)"/><polygon points="646.8,333.2 632.3,338.2 628.7,362.2 643.2,357.2" fill="#3a3a40" opacity="0.2" filter="url(#blur1)"/><polygon points="675.5,341.2 660.8,346.1 657.2,370.1 671.9,365.2" fill="#3a3a40" opacity="0.2" filter="url(#blur1)"/><polygon points="707.2,349.2 689.7,354.4 686.1,378.4 703.6,373.2" fill="#3a3a40" opacity="0.2" filter="url(#blur1)"/><polygon points="607,356.6 591.3,362.1 587.7,386.1 603.4,380.6" fill="#3a3a40" opacity="0.2" filter="url(#blur1)"/><polygon points="634.5,369 618.9,373.7 615.3,397.7 630.9,393" fill="#3a3a40" opacity="0.2" filter="url(#blur1)"/><polygon points="663,382 647.4,386.6 643.8,410.6 659.4,406" fill="#3a3a40" opacity="0.2" filter="url(#blur1)"/><polygon points="692.5,394.9 676.3,399.5 672.7,423.5 688.9,418.9" fill="#3a3a40" opacity="0.2" filter="url(#blur1)"/></g>
<path d="M566.4,213.5C567.7,215.4 571.7,221.2 574,225 C576.3,228.8 578.3,231.8 580.2,236 C582.1,240.2 584,245.4 585.5,250 C587,254.6 588.4,259.1 589.4,263.6 C590.4,268.1 591,272.4 591.5,277 C592,281.6 592.2,286.4 592.2,291.2 C592.2,296 592,301 591.5,306 C591,311 590.5,316.3 589.4,321.3 C588.3,326.3 586.8,331.1 585,336 C583.2,340.9 580.6,346.5 578.4,350.7 C576.2,354.9 574.3,357.6 572,361 C569.7,364.4 565.8,369.3 564.6,371" fill="none" stroke="#96259f" stroke-width="1.3"/>
<polyline points="580.2,236.4 666,225.8" fill="none" stroke="#96259f" stroke-width="1.3"/>
<polyline points="589.4,263.6 682,264.5" fill="none" stroke="#96259f" stroke-width="1.3"/>
<polyline points="592.2,291.8 692,305" fill="none" stroke="#96259f" stroke-width="1.3"/>
<polyline points="589.4,322.2 690,349" fill="none" stroke="#96259f" stroke-width="1.3"/>
<polyline points="578.4,350.7 678,394" fill="none" stroke="#96259f" stroke-width="1.3"/>
<polygon points="588,222.8 599.6,212 610,228.6 597.7,238.8" fill="#2a2a2e" stroke="#1e1e22" stroke-width="0.4"/><path d="M590.3,220.6L600.2,236.8M592.6,218.5L602.6,234.7M595,216.3L605.1,232.7M597.3,214.2L607.5,230.6M589.4,225.1L601.1,214.4M590.8,227.4L602.6,216.7M592.2,229.7L604.1,219.1M593.5,231.9L605.5,221.5M594.9,234.2L607,223.9M596.3,236.5L608.5,226.2" fill="none" stroke="#65656d" stroke-width="0.4"/>
<polygon points="611.5,219.4 623.5,209.3 633.6,225.9 621.6,235" fill="#2a2a2e" stroke="#1e1e22" stroke-width="0.4"/><path d="M613.9,217.4L624,233.2M616.3,215.4L626.4,231.4M618.7,213.3L628.8,229.5M621.1,211.3L631.2,227.7M612.9,221.6L624.9,211.7M614.4,223.9L626.4,214M615.8,226.1L627.8,216.4M617.3,228.3L629.3,218.8M618.7,230.5L630.7,221.2M620.2,232.8L632.2,223.5" fill="none" stroke="#65656d" stroke-width="0.4"/>
<polygon points="634.5,216.7 646.5,207 656.6,223 644.6,233.2" fill="#2a2a2e" stroke="#1e1e22" stroke-width="0.4"/><path d="M636.9,214.8L647,231.2M639.3,212.8L649.4,229.1M641.7,210.9L651.8,227.1M644.1,208.9L654.2,225M635.9,219.1L647.9,209.3M637.4,221.4L649.4,211.6M638.8,223.8L650.8,213.9M640.3,226.1L652.3,216.1M641.7,228.5L653.7,218.4M643.2,230.8L655.2,220.7" fill="none" stroke="#65656d" stroke-width="0.4"/>
<polygon points="657.5,214 670.4,203.8 680.5,220.4 667.6,230.5" fill="#2a2a2e" stroke="#1e1e22" stroke-width="0.4"/><path d="M660.1,212L670.2,228.5M662.7,209.9L672.8,226.5M665.2,207.9L675.3,224.4M667.8,205.8L677.9,222.4M658.9,216.4L671.8,206.2M660.4,218.7L673.3,208.5M661.8,221.1L674.7,210.9M663.3,223.4L676.2,213.3M664.7,225.8L677.6,215.7M666.2,228.1L679.1,218" fill="none" stroke="#65656d" stroke-width="0.4"/>
<polygon points="601.4,249.8 615.2,241.5 620.7,260 606,268.2" fill="#2a2a2e" stroke="#1e1e22" stroke-width="0.4"/><path d="M604.2,248.1L608.9,266.6M606.9,246.5L611.9,264.9M609.7,244.8L614.8,263.3M612.4,243.2L617.8,261.6M602.1,252.4L616,244.1M602.7,255.1L616.8,246.8M603.4,257.7L617.6,249.4M604,260.3L618.3,252.1M604.7,262.9L619.1,254.7M605.3,265.6L619.9,257.4" fill="none" stroke="#65656d" stroke-width="0.4"/>
<polygon points="626.6,249.8 641,241.9 646.5,260.3 632.7,268.7" fill="#2a2a2e" stroke="#1e1e22" stroke-width="0.4"/><path d="M629.5,248.2L635.5,267M632.4,246.6L638.2,265.3M635.2,245.1L641,263.7M638.1,243.5L643.7,262M627.5,252.5L641.8,244.5M628.3,255.2L642.6,247.2M629.2,257.9L643.4,249.8M630.1,260.6L644.1,252.4M631,263.3L644.9,255M631.8,266L645.7,257.7" fill="none" stroke="#65656d" stroke-width="0.4"/>
<polygon points="651.6,249.8 665.8,241.9 672.2,260.8 657.5,268.7" fill="#2a2a2e" stroke="#1e1e22" stroke-width="0.4"/><path d="M654.4,248.2L660.4,267.1M657.3,246.6L663.4,265.5M660.1,245.1L666.3,264M663,243.5L669.3,262.4M652.4,252.5L666.7,244.6M653.3,255.2L667.6,247.3M654.1,257.9L668.5,250M655,260.6L669.5,252.7M655.8,263.3L670.4,255.4M656.7,266L671.3,258.1" fill="none" stroke="#65656d" stroke-width="0.4"/>
<polygon points="676.8,249.8 691.6,242.4 698,260.8 683.3,269" fill="#2a2a2e" stroke="#1e1e22" stroke-width="0.4"/><path d="M679.8,248.3L686.2,267.4M682.7,246.8L689.2,265.7M685.7,245.4L692.1,264.1M688.6,243.9L695.1,262.4M677.7,252.5L692.5,245M678.7,255.3L693.4,247.7M679.6,258L694.3,250.3M680.5,260.8L695.3,252.9M681.4,263.5L696.2,255.5M682.4,266.3L697.1,258.2" fill="none" stroke="#65656d" stroke-width="0.4"/>
<polygon points="608.2,280 622.6,272.8 624.4,292 610,298.6" fill="#2a2a2e" stroke="#1e1e22" stroke-width="0.4"/><path d="M611.1,278.6L612.9,297.3M614,277.1L615.8,296M616.8,275.7L618.6,294.6M619.7,274.2L621.5,293.3M608.5,282.7L622.9,275.5M608.7,285.3L623.1,278.3M609,288L623.4,281M609.2,290.6L623.6,283.8M609.5,293.3L623.9,286.5M609.7,295.9L624.1,289.3" fill="none" stroke="#65656d" stroke-width="0.4"/>
<polygon points="635,283 649.8,276 651.6,294.9 637,301" fill="#2a2a2e" stroke="#1e1e22" stroke-width="0.4"/><path d="M638,281.6L639.9,299.8M640.9,280.2L642.8,298.6M643.9,278.8L645.8,297.3M646.8,277.4L648.7,296.1M635.3,285.6L650.1,278.7M635.6,288.1L650.3,281.4M635.9,290.7L650.6,284.1M636.1,293.3L650.8,286.8M636.4,295.9L651.1,289.5M636.7,298.4L651.3,292.2" fill="none" stroke="#65656d" stroke-width="0.4"/>
<polygon points="661.7,286.6 676.8,280 678.7,298.6 663.5,305" fill="#2a2a2e" stroke="#1e1e22" stroke-width="0.4"/><path d="M664.7,285.3L666.5,303.7M667.7,284L669.6,302.4M670.8,282.6L672.6,301.2M673.8,281.3L675.7,299.9M662,289.2L677.1,282.7M662.2,291.9L677.3,285.3M662.5,294.5L677.6,288M662.7,297.1L677.9,290.6M663,299.7L678.2,293.3M663.2,302.4L678.4,295.9" fill="none" stroke="#65656d" stroke-width="0.4"/>
<polygon points="688.8,290.8 704.4,284.2 706.3,303 690.7,309.5" fill="#2a2a2e" stroke="#1e1e22" stroke-width="0.4"/><path d="M691.9,289.5L693.8,308.2M695,288.2L696.9,306.9M698.2,286.8L700.1,305.6M701.3,285.5L703.2,304.3M689.1,293.5L704.7,286.9M689.3,296.1L704.9,289.6M689.6,298.8L705.2,292.3M689.9,301.5L705.5,294.9M690.2,304.2L705.8,297.6M690.4,306.8L706,300.3" fill="none" stroke="#65656d" stroke-width="0.4"/>
<polygon points="608.8,310.6 623,305.6 618.9,324 604.7,329.6" fill="#2a2a2e" stroke="#1e1e22" stroke-width="0.4"/><path d="M611.6,309.6L607.5,328.5M614.5,308.6L610.4,327.4M617.3,307.6L613.2,326.2M620.2,306.6L616.1,325.1M608.2,313.3L622.4,308.2M607.6,316L621.8,310.9M607,318.7L621.2,313.5M606.5,321.5L620.7,316.1M605.9,324.2L620.1,318.7M605.3,326.9L619.5,321.4" fill="none" stroke="#65656d" stroke-width="0.4"/>
<polygon points="636.4,318.5 651,313 646.8,333.2 632.3,338.2" fill="#2a2a2e" stroke="#1e1e22" stroke-width="0.4"/><path d="M639.3,317.4L635.2,337.2M642.2,316.3L638.1,336.2M645.2,315.2L641,335.2M648.1,314.1L643.9,334.2M635.8,321.3L650.4,315.9M635.2,324.1L649.8,318.8M634.6,326.9L649.2,321.7M634.1,329.8L648.6,324.5M633.5,332.6L648,327.4M632.9,335.4L647.4,330.3" fill="none" stroke="#65656d" stroke-width="0.4"/>
<polygon points="665.2,326.4 679.6,320.9 675.5,341.2 660.8,346.1" fill="#2a2a2e" stroke="#1e1e22" stroke-width="0.4"/><path d="M668.1,325.3L663.7,345.1M671,324.2L666.7,344.1M673.8,323.1L669.6,343.2M676.7,322L672.6,342.2M664.6,329.2L679,323.8M663.9,332L678.4,326.7M663.3,334.8L677.8,329.6M662.7,337.7L677.3,332.5M662.1,340.5L676.7,335.4M661.4,343.3L676.1,338.3" fill="none" stroke="#65656d" stroke-width="0.4"/>
<polygon points="693.4,334.2 708.7,328.6 707.2,349.2 689.7,354.4" fill="#2a2a2e" stroke="#1e1e22" stroke-width="0.4"/><path d="M696.5,333.1L693.2,353.4M699.5,332L696.7,352.3M702.6,330.8L700.2,351.3M705.6,329.7L703.7,350.2M692.9,337.1L708.5,331.5M692.3,340L708.3,334.5M691.8,342.9L708.1,337.4M691.3,345.7L707.8,340.4M690.8,348.6L707.6,343.3M690.2,351.5L707.4,346.3" fill="none" stroke="#65656d" stroke-width="0.4"/>
<polygon points="599.6,344.3 614.8,339.3 607,356.6 591.3,362.1" fill="#2a2a2e" stroke="#1e1e22" stroke-width="0.4"/><path d="M602.6,343.3L594.4,361M605.7,342.3L597.6,359.9M608.7,341.3L600.7,358.8M611.8,340.3L603.9,357.7M598.4,346.8L613.7,341.8M597.2,349.4L612.6,344.2M596,351.9L611.5,346.7M594.9,354.5L610.3,349.2M593.7,357L609.2,351.7M592.5,359.6L608.1,354.1" fill="none" stroke="#65656d" stroke-width="0.4"/>
<polygon points="628,355.3 642.8,351 634.5,369 618.9,373.7" fill="#2a2a2e" stroke="#1e1e22" stroke-width="0.4"/><path d="M631,354.4L622,372.8M633.9,353.6L625.1,371.8M636.9,352.7L628.3,370.9M639.8,351.9L631.4,369.9M626.7,357.9L641.6,353.6M625.4,360.6L640.4,356.1M624.1,363.2L639.2,358.7M622.8,365.8L638.1,361.3M621.5,368.4L636.9,363.9M620.2,371.1L635.7,366.4" fill="none" stroke="#65656d" stroke-width="0.4"/>
<polygon points="656,367.3 671.3,363 663,382 647.4,386.6" fill="#2a2a2e" stroke="#1e1e22" stroke-width="0.4"/><path d="M659.1,366.4L650.5,385.7M662.1,365.6L653.6,384.8M665.2,364.7L656.8,383.8M668.2,363.9L659.9,382.9M654.8,370.1L670.1,365.7M653.5,372.8L668.9,368.4M652.3,375.6L667.7,371.1M651.1,378.3L666.6,373.9M649.9,381.1L665.4,376.6M648.6,383.8L664.2,379.3" fill="none" stroke="#65656d" stroke-width="0.4"/>
<polygon points="684.7,379.2 700.8,375 692.5,394.9 676.3,399.5" fill="#2a2a2e" stroke="#1e1e22" stroke-width="0.4"/><path d="M687.9,378.4L679.5,398.6M691.1,377.5L682.8,397.7M694.4,376.7L686,396.7M697.6,375.8L689.3,395.8M683.5,382.1L699.6,377.8M682.3,385L698.4,380.7M681.1,387.9L697.2,383.5M679.9,390.8L696.1,386.4M678.7,393.7L694.9,389.2M677.5,396.6L693.7,392.1" fill="none" stroke="#65656d" stroke-width="0.4"/>
<clipPath id="cB"><path d="M204.8,390.3C209,392.9 221.4,401.1 230,406 C238.6,410.9 248.1,415.7 256.4,420 C264.7,424.3 272.2,428.3 280,432 C287.8,435.7 295.6,439.2 303.3,442 C311,444.8 318.2,446.7 326,448.5 C333.8,450.3 340.2,451.5 350.2,452.9 C360.2,454.3 373.9,456.1 386,457 C398.1,457.9 416.8,458.2 423,458.5 L431.2,575.1C426,575 411,574.9 400,574.6 C389,574.3 375,573.8 365,573.2 C355,572.6 348.3,572 340,571 C331.7,570 323.6,568.9 315.3,567.5 C307,566.1 298.3,564.4 290,562.5 C281.7,560.6 273.9,558.6 265.6,555.9 C257.3,553.2 248.3,549.8 240,546.5 C231.7,543.2 224.2,540.2 215.9,536 C207.6,531.8 198.3,526.5 190,521.5 C181.7,516.5 174.2,512.2 166.2,506.2 C158.2,500.2 149.8,492.7 142,485.5 C134.2,478.3 123,466.9 119.2,463.2Z"/></clipPath>
<path d="M204.8,390.3C209,392.9 221.4,401.1 230,406 C238.6,410.9 248.1,415.7 256.4,420 C264.7,424.3 272.2,428.3 280,432 C287.8,435.7 295.6,439.2 303.3,442 C311,444.8 318.2,446.7 326,448.5 C333.8,450.3 340.2,451.5 350.2,452.9 C360.2,454.3 373.9,456.1 386,457 C398.1,457.9 416.8,458.2 423,458.5 L431.2,575.1C426,575 411,574.9 400,574.6 C389,574.3 375,573.8 365,573.2 C355,572.6 348.3,572 340,571 C331.7,570 323.6,568.9 315.3,567.5 C307,566.1 298.3,564.4 290,562.5 C281.7,560.6 273.9,558.6 265.6,555.9 C257.3,553.2 248.3,549.8 240,546.5 C231.7,543.2 224.2,540.2 215.9,536 C207.6,531.8 198.3,526.5 190,521.5 C181.7,516.5 174.2,512.2 166.2,506.2 C158.2,500.2 149.8,492.7 142,485.5 C134.2,478.3 123,466.9 119.2,463.2Z" fill="url(#gB)"/>
<g clip-path="url(#cB)"><rect x="202" y="397.8" width="25.5" height="22" fill="#38383c" opacity=".24" filter="url(#blur2)"/><rect x="179.1" y="417.5" width="26.3" height="22" fill="#38383c" opacity=".24" filter="url(#blur2)"/><rect x="155.8" y="437.9" width="26.8" height="22" fill="#38383c" opacity=".24" filter="url(#blur2)"/><rect x="131.3" y="458.4" width="27.8" height="22" fill="#38383c" opacity=".24" filter="url(#blur2)"/><rect x="237.9" y="422.8" width="27" height="22" fill="#38383c" opacity=".24" filter="url(#blur2)"/><rect x="219.8" y="445.6" width="28.1" height="22" fill="#38383c" opacity=".24" filter="url(#blur2)"/><rect x="200.3" y="470.6" width="29.7" height="22" fill="#38383c" opacity=".24" filter="url(#blur2)"/><rect x="180.2" y="495.6" width="29.9" height="22" fill="#38383c" opacity=".24" filter="url(#blur2)"/><rect x="281.3" y="441.5" width="28.9" height="22" fill="#38383c" opacity=".24" filter="url(#blur2)"/><rect x="268.8" y="468.4" width="28.9" height="22" fill="#38383c" opacity=".24" filter="url(#blur2)"/><rect x="254.8" y="495.3" width="30.2" height="22" fill="#38383c" opacity=".24" filter="url(#blur2)"/><rect x="240.5" y="524.1" width="31" height="22" fill="#38383c" opacity=".24" filter="url(#blur2)"/><rect x="330.6" y="454.1" width="26.9" height="22" fill="#38383c" opacity=".24" filter="url(#blur2)"/><rect x="323.7" y="482.4" width="28.6" height="22" fill="#38383c" opacity=".24" filter="url(#blur2)"/><rect x="316.4" y="512.4" width="29.7" height="22" fill="#38383c" opacity=".24" filter="url(#blur2)"/><rect x="309" y="543.6" width="31.5" height="22" fill="#38383c" opacity=".24" filter="url(#blur2)"/><rect x="381.8" y="459.2" width="27" height="22" fill="#38383c" opacity=".24" filter="url(#blur2)"/><rect x="382.5" y="488.1" width="27.8" height="22" fill="#38383c" opacity=".24" filter="url(#blur2)"/><rect x="382.6" y="518.9" width="28.6" height="22" fill="#38383c" opacity=".24" filter="url(#blur2)"/><rect x="383.4" y="551.1" width="29.1" height="22" fill="#38383c" opacity=".24" filter="url(#blur2)"/></g>
<path d="M206,368.5C210,372.7 223,387.5 229.8,393.5 C236.6,399.5 241.3,401.1 247,404.5 C252.7,407.9 257.9,410.7 264.2,413.8 C270.5,416.9 278,420.1 285,423 C292,425.9 299.4,428.8 306.4,431 C313.4,433.2 319.9,434.9 327,436.5 C334.1,438.1 341.4,439.4 348.7,440.4 C356,441.4 363.4,442.1 371,442.6 C378.6,443.1 387.5,443.4 394,443.5 C400.5,443.6 404.5,443.6 410,443.3 C415.5,443.1 424.1,442.2 426.9,442" fill="none" stroke="#96259f" stroke-width="1.3"/>
<polyline points="229.8,393.5 145.4,468.5" fill="none" stroke="#96259f" stroke-width="1.3"/>
<polyline points="264.2,413.8 195.4,504.5" fill="none" stroke="#96259f" stroke-width="1.3"/>
<polyline points="306.4,431 254.8,534.2" fill="none" stroke="#96259f" stroke-width="1.3"/>
<polyline points="348.7,440.4 323.6,551.4" fill="none" stroke="#96259f" stroke-width="1.3"/>
<polyline points="394,443.5 397.2,556" fill="none" stroke="#96259f" stroke-width="1.3"/>
<polygon points="199.5,389.4 213.2,388.1 229.8,403.8 216.4,406" fill="#2a2a2e" stroke="#1e1e22" stroke-width="0.4"/><path d="M201.8,389.2L218.6,405.6M204.1,389L220.9,405.3M206.3,388.8L223.1,404.9M208.6,388.5L225.3,404.5M210.9,388.3L227.6,404.2M207.9,397.7L221.5,396" fill="none" stroke="#65656d" stroke-width="0.3"/>
<polygon points="176.6,409.1 190.7,407.5 207.9,423.8 193.8,425.7" fill="#2a2a2e" stroke="#1e1e22" stroke-width="0.4"/><path d="M178.9,408.8L196.2,425.4M181.3,408.6L198.5,425.1M183.6,408.3L200.9,424.8M186,408L203.2,424.4M188.3,407.8L205.6,424.1M185.2,417.4L199.3,415.6" fill="none" stroke="#65656d" stroke-width="0.3"/>
<polygon points="153.2,428.8 167.3,427.2 185.1,445.1 171.3,446.6" fill="#2a2a2e" stroke="#1e1e22" stroke-width="0.4"/><path d="M155.5,428.5L173.6,446.4M157.9,428.3L175.9,446.1M160.2,428L178.2,445.9M162.6,427.7L180.5,445.6M165,427.5L182.8,445.4M162.2,437.7L176.2,436.1" fill="none" stroke="#65656d" stroke-width="0.3"/>
<polygon points="128.8,449.8 143.2,448.2 161.9,464.5 146.9,467" fill="#2a2a2e" stroke="#1e1e22" stroke-width="0.4"/><path d="M131.2,449.5L149.4,466.6M133.6,449.3L151.9,466.2M136,449L154.4,465.8M138.4,448.7L156.9,465.3M140.8,448.5L159.4,464.9M137.9,458.4L152.6,456.4" fill="none" stroke="#65656d" stroke-width="0.3"/>
<polygon points="235.1,416.3 250.1,414.7 267.3,426.9 253.3,429.4" fill="#2a2a2e" stroke="#1e1e22" stroke-width="0.4"/><path d="M237.6,416L255.6,429M240.1,415.8L258,428.6M242.6,415.5L260.3,428.1M245.1,415.2L262.6,427.7M247.6,415L265,427.3M244.2,422.9L258.7,420.8" fill="none" stroke="#65656d" stroke-width="0.3"/>
<polygon points="217.3,438.2 231.4,436.6 250.8,450.7 236.1,452.9" fill="#2a2a2e" stroke="#1e1e22" stroke-width="0.4"/><path d="M219.7,437.9L238.6,452.5M222,437.7L241,452.2M224.4,437.4L243.4,451.8M226.7,437.1L245.9,451.4M229.1,436.9L248.4,451.1M226.7,445.5L241.1,443.6" fill="none" stroke="#65656d" stroke-width="0.3"/>
<polygon points="197.6,462.3 212.6,460.7 232.9,476.4 217.3,478.9" fill="#2a2a2e" stroke="#1e1e22" stroke-width="0.4"/><path d="M200.1,462L219.9,478.5M202.6,461.8L222.5,478.1M205.1,461.5L225.1,477.6M207.6,461.2L227.7,477.2M210.1,461L230.3,476.8M207.4,470.6L222.8,468.5" fill="none" stroke="#65656d" stroke-width="0.3"/>
<polygon points="177.6,487.3 192.3,485.1 213.2,501.4 197.6,504.5" fill="#2a2a2e" stroke="#1e1e22" stroke-width="0.4"/><path d="M180.1,486.9L200.2,504M182.5,486.6L202.8,503.5M184.9,486.2L205.4,502.9M187.4,485.8L208,502.4M189.9,485.5L210.6,501.9M187.6,495.9L202.8,493.2" fill="none" stroke="#65656d" stroke-width="0.3"/>
<polygon points="278.3,436.3 295.5,434.7 312.7,444.4 296.4,446.6" fill="#2a2a2e" stroke="#1e1e22" stroke-width="0.4"/><path d="M281.2,436L299.1,446.2M284,435.8L301.8,445.9M286.9,435.5L304.5,445.5M289.8,435.2L307.3,445.1M292.6,435L310,444.8M287.4,441.5L304.1,439.5" fill="none" stroke="#65656d" stroke-width="0.3"/>
<polygon points="265.8,462.3 283,460.7 300.2,471.7 283.9,474.8" fill="#2a2a2e" stroke="#1e1e22" stroke-width="0.4"/><path d="M268.7,462L286.6,474.3M271.5,461.8L289.3,473.8M274.4,461.5L292,473.2M277.3,461.2L294.8,472.7M280.1,461L297.5,472.2M274.9,468.6L291.6,466.2" fill="none" stroke="#65656d" stroke-width="0.3"/>
<polygon points="251.7,488.9 268.9,487.3 287.7,498.9 271.4,502" fill="#2a2a2e" stroke="#1e1e22" stroke-width="0.4"/><path d="M254.6,488.6L274.1,501.5M257.4,488.4L276.8,501M260.3,488.1L279.5,500.4M263.2,487.8L282.3,499.9M266,487.6L285,499.4M261.5,495.4L278.3,493.1" fill="none" stroke="#65656d" stroke-width="0.3"/>
<polygon points="237.6,517 254.8,515.4 274.5,528 257,532" fill="#2a2a2e" stroke="#1e1e22" stroke-width="0.4"/><path d="M240.5,516.7L259.9,531.3M243.3,516.5L262.8,530.7M246.2,516.2L265.8,530M249.1,515.9L268.7,529.3M251.9,515.7L271.6,528.7M247.3,524.5L264.6,521.7" fill="none" stroke="#65656d" stroke-width="0.3"/>
<polygon points="328,449 357,452.5 360,457.2 331,453.7" fill="#2a2a2e" stroke="#1e1e22" stroke-width="0.4"/><path d="M332.8,449.6L335.8,454.3M337.7,450.2L340.7,454.9M342.5,450.8L345.5,455.4M347.3,451.3L350.3,456M352.2,451.9L355.2,456.6M329.5,451.4L358.5,454.9" fill="none" stroke="#65656d" stroke-width="0.3"/>
<polygon points="321,476.4 351.5,480.5 355,486.4 324.5,482.3" fill="#2a2a2e" stroke="#1e1e22" stroke-width="0.4"/><path d="M326.1,477.1L329.6,483M331.2,477.8L334.7,483.7M336.2,478.4L339.8,484.4M341.3,479.1L344.8,485M346.4,479.8L349.9,485.7M322.8,479.4L353.2,483.4" fill="none" stroke="#65656d" stroke-width="0.3"/>
<polygon points="313.6,505.6 345,510 349,517.2 317.6,512.8" fill="#2a2a2e" stroke="#1e1e22" stroke-width="0.4"/><path d="M318.8,506.3L322.8,513.5M324.1,507.1L328.1,514.3M329.3,507.8L333.3,515M334.5,508.5L338.5,515.7M339.8,509.3L343.8,516.5M315.6,509.2L347,513.6" fill="none" stroke="#65656d" stroke-width="0.3"/>
<polygon points="306,536 339,541 343.5,549.3 310.5,544.3" fill="#2a2a2e" stroke="#1e1e22" stroke-width="0.4"/><path d="M311.5,536.8L316,545.1M317,537.7L321.5,546M322.5,538.5L327,546.8M328,539.3L332.5,547.6M333.5,540.2L338,548.5M308.2,540.1L341.2,545.1" fill="none" stroke="#65656d" stroke-width="0.3"/>
<polygon points="379.2,455.9 411,456.2 411.4,460.5 379.6,460.2" fill="#2a2a2e" stroke="#1e1e22" stroke-width="0.4"/><path d="M384.5,455.9L384.9,460.2M389.8,456L390.2,460.3M395.1,456L395.5,460.4M400.4,456.1L400.8,460.4M405.7,456.1L406.1,460.4M379.4,458L411.2,458.4" fill="none" stroke="#65656d" stroke-width="0.3"/>
<polygon points="379.9,484 412.5,484.3 413,490.3 380.4,490" fill="#2a2a2e" stroke="#1e1e22" stroke-width="0.4"/><path d="M385.3,484.1L385.8,490.1M390.8,484.1L391.3,490.1M396.2,484.1L396.7,490.1M401.6,484.2L402.1,490.2M407.1,484.2L407.6,490.2M380.1,487L412.8,487.3" fill="none" stroke="#65656d" stroke-width="0.3"/>
<polygon points="379.9,514.5 413.5,514.8 414,521.2 380.4,520.9" fill="#2a2a2e" stroke="#1e1e22" stroke-width="0.4"/><path d="M385.5,514.5L386,521M391.1,514.6L391.6,521M396.7,514.6L397.2,521M402.3,514.7L402.8,521.1M407.9,514.8L408.4,521.2M380.1,517.7L413.8,518" fill="none" stroke="#65656d" stroke-width="0.3"/>
<polygon points="380.6,546 414.8,546.3 415.3,554.3 381.1,554" fill="#2a2a2e" stroke="#1e1e22" stroke-width="0.4"/><path d="M386.3,546L386.8,554M392,546.1L392.5,554.1M397.7,546.1L398.2,554.1M403.4,546.2L403.9,554.2M409.1,546.2L409.6,554.2M380.9,550L415.1,550.3" fill="none" stroke="#65656d" stroke-width="0.3"/>
<path d="M283.7,143.4L289.1,99.9M291.7,153.4L291.7,103.1M306.6,147.4L296.4,101.2M299.2,138.5L294.1,98.3M283.7,143.4L291.7,145M291.7,153.4L284.6,136.1M283.7,143.4L291.7,153.4M284.6,136.1L291.7,136.6M291.7,145L285.5,128.9M284.6,136.1L291.7,145M285.5,128.9L291.7,128.2M291.7,136.6L286.4,121.6M285.5,128.9L291.7,136.6M286.4,121.6L291.7,119.9M291.7,128.2L287.3,114.4M286.4,121.6L291.7,128.2M287.3,114.4L291.7,111.5M291.7,119.9L288.2,107.1M287.3,114.4L291.7,119.9M288.2,107.1L291.7,103.1M291.7,111.5L289.1,99.9M288.2,107.1L291.7,111.5M291.7,153.4L304.9,139.7M306.6,147.4L291.7,145M291.7,153.4L306.6,147.4M291.7,145L303.2,132M304.9,139.7L291.7,136.6M291.7,145L304.9,139.7M291.7,136.6L301.5,124.3M303.2,132L291.7,128.2M291.7,136.6L303.2,132M291.7,128.2L299.8,116.6M301.5,124.3L291.7,119.9M291.7,128.2L301.5,124.3M291.7,119.9L298.1,108.9M299.8,116.6L291.7,111.5M291.7,119.9L299.8,116.6M291.7,111.5L296.4,101.2M298.1,108.9L291.7,103.1M291.7,111.5L298.1,108.9M306.6,147.4L298.3,131.8M299.2,138.5L304.9,139.7M306.6,147.4L299.2,138.5M304.9,139.7L297.5,125.1M298.3,131.8L303.2,132M304.9,139.7L298.3,131.8M303.2,132L296.6,118.4M297.5,125.1L301.5,124.3M303.2,132L297.5,125.1M301.5,124.3L295.8,111.7M296.6,118.4L299.8,116.6M301.5,124.3L296.6,118.4M299.8,116.6L294.9,105M295.8,111.7L298.1,108.9M299.8,116.6L295.8,111.7M298.1,108.9L294.1,98.3M294.9,105L296.4,101.2M298.1,108.9L294.9,105M299.2,138.5L284.6,136.1M283.7,143.4L298.3,131.8M299.2,138.5L283.7,143.4M298.3,131.8L285.5,128.9M284.6,136.1L297.5,125.1M298.3,131.8L284.6,136.1M297.5,125.1L286.4,121.6M285.5,128.9L296.6,118.4M297.5,125.1L285.5,128.9M296.6,118.4L287.3,114.4M286.4,121.6L295.8,111.7M296.6,118.4L286.4,121.6M295.8,111.7L288.2,107.1M287.3,114.4L294.9,105M295.8,111.7L287.3,114.4M294.9,105L289.1,99.9M288.2,107.1L294.1,98.3M294.9,105L288.2,107.1M289.1,99.9L289.7,67.7M291.7,103.1L290.6,68.8M296.4,101.2L292.2,68.2M294.1,98.3L291.4,67.2M289.1,99.9L291.5,97.4M291.7,103.1L289.2,94.5M289.1,99.9L291.7,103.1M289.2,94.5L291.3,91.7M291.5,97.4L289.3,89.2M289.2,94.5L291.5,97.4M289.3,89.2L291.1,86M291.3,91.7L289.4,83.8M289.3,89.2L291.3,91.7M289.4,83.8L291,80.3M291.1,86L289.5,78.5M289.4,83.8L291.1,86M289.5,78.5L290.8,74.6M291,80.3L289.6,73.1M289.5,78.5L291,80.3M289.6,73.1L290.6,68.8M290.8,74.6L289.7,67.7M289.6,73.1L290.8,74.6M291.7,103.1L295.7,95.7M296.4,101.2L291.5,97.4M291.7,103.1L296.4,101.2M291.5,97.4L295,90.2M295.7,95.7L291.3,91.7M291.5,97.4L295.7,95.7M291.3,91.7L294.3,84.7M295,90.2L291.1,86M291.3,91.7L295,90.2M291.1,86L293.6,79.2M294.3,84.7L291,80.3M291.1,86L294.3,84.7M291,80.3L292.9,73.7M293.6,79.2L290.8,74.6M291,80.3L293.6,79.2M290.8,74.6L292.2,68.2M292.9,73.7L290.6,68.8M290.8,74.6L292.9,73.7M296.4,101.2L293.6,93.1M294.1,98.3L295.7,95.7M296.4,101.2L294.1,98.3M295.7,95.7L293.2,88M293.6,93.1L295,90.2M295.7,95.7L293.6,93.1M295,90.2L292.7,82.8M293.2,88L294.3,84.7M295,90.2L293.2,88M294.3,84.7L292.3,77.6M292.7,82.8L293.6,79.2M294.3,84.7L292.7,82.8M293.6,79.2L291.9,72.4M292.3,77.6L292.9,73.7M293.6,79.2L292.3,77.6M292.9,73.7L291.4,67.2M291.9,72.4L292.2,68.2M292.9,73.7L291.9,72.4M294.1,98.3L289.2,94.5M289.1,99.9L293.6,93.1M294.1,98.3L289.1,99.9M293.6,93.1L289.3,89.2M289.2,94.5L293.2,88M293.6,93.1L289.2,94.5M293.2,88L289.4,83.8M289.3,89.2L292.7,82.8M293.2,88L289.3,89.2M292.7,82.8L289.5,78.5M289.4,83.8L292.3,77.6M292.7,82.8L289.4,83.8M292.3,77.6L289.6,73.1M289.5,78.5L291.9,72.4M292.3,77.6L289.5,78.5M291.9,72.4L289.7,67.7M289.6,73.1L291.4,67.2M291.9,72.4L289.6,73.1M279.5,71.5L302,67M279.5,71.5L290.8,67.2L302,67M279.5,71.5L290.8,70.8L302,67M282.9,70.2L282.9,71.3M286.2,69L286.2,71.1M295.2,67.2L295.2,69.3M298.6,67.1L298.6,68.2M275.5,78L307.5,72.5M275.5,78L291.5,73.2L307.5,72.5M275.5,78L291.5,76.8L307.5,72.5M280.3,76.6L280.3,77.7M285.1,75.2L285.1,77.3M297.9,73L297.9,75.1M302.7,72.7L302.7,73.8M274.5,83L307.5,77.5M274.5,83L291,78.2L307.5,77.5M274.5,83L291,81.8L307.5,77.5M279.4,81.6L279.4,82.7M284.4,80.2L284.4,82.3M297.6,78L297.6,80.1M302.6,77.7L302.6,78.8M275.5,92.5L306,84.5M275.5,92.5L290.8,86.5L306,84.5M275.5,92.5L290.8,90.1L306,84.5M280.1,90.7L280.1,91.8M284.6,88.9L284.6,91.1M296.9,85.7L296.9,87.9M301.4,85.1L301.4,86.2" fill="none" stroke="#68727a" stroke-width="0.5" stroke-linecap="round"/><rect x="282.4" y="142.8" width="2.6" height="2.2" fill="#7e2222"/><rect x="290.4" y="152.8" width="2.6" height="2.2" fill="#7e2222"/><rect x="305.3" y="146.8" width="2.6" height="2.2" fill="#7e2222"/><rect x="297.9" y="137.9" width="2.6" height="2.2" fill="#7e2222"/>
<polygon points="299.3,240.2 399.1,202.2 455.5,265.5 353.2,313.8" fill="url(#gFloor)"/><path d="M310.4,236L364.6,308.4M321.5,231.8L375.9,303.1M332.6,227.5L387.3,297.7M343.7,223.3L398.7,292.3M354.7,219.1L410,287M365.8,214.9L421.4,281.6M376.9,210.6L432.8,276.2M388,206.4L444.1,270.9M304.7,247.6L404.7,208.5M310.1,254.9L410.4,214.9M315.5,262.3L416,221.2M320.9,269.6L421.7,227.5M326.2,277L427.3,233.8M331.6,284.4L432.9,240.2M337,291.7L438.6,246.5M342.4,299.1L444.2,252.8M347.8,306.4L449.9,259.2" fill="none" stroke="#b4b6bc" stroke-width="0.3"/>
<polygon points="296.6,210.2 397.9,171.6 399.1,202.2 299.3,240.2" fill="#eceef2" stroke="#c9ccd4" stroke-width="0.6"/>
<polygon points="397.9,171.6 400.4,173.2 401.4,203.8 399.1,202.2" fill="#b9bcc4"/>
<polygon points="303.9,212.6 393.2,177.6 393.2,198.8 303.9,231" fill="url(#gScr)" stroke="#b9bdc8" stroke-width="0.9"/>
<polygon points="299.1,236.6 399,199.6 399.1,202.2 299.3,240.2" fill="#a4aab6"/>
<polygon points="296.6,210.2 299,209.3 301.4,239.4 299.3,240.2" fill="#c2c6ce"/>
<polygon points="385,135 448.6,150.6 433.8,185.6 368.5,170" fill="url(#gPT)"/><path d="M392.9,136.9L376.7,171.9M400.9,138.9L384.8,173.9M408.9,140.8L393,175.8M416.8,142.8L401.1,177.8M424.8,144.8L409.3,179.8M432.7,146.7L417.5,181.7M440.7,148.7L425.6,183.7M382.9,139.4L446.8,155M380.9,143.8L444.9,159.3M378.8,148.1L443.1,163.7M376.8,152.5L441.2,168.1M374.7,156.9L439.4,172.5M372.6,161.2L437.5,176.8M370.6,165.6L435.7,181.2" fill="none" stroke="#b4b4b8" stroke-width="0.3"/>
<polygon points="214,199.6 276.6,204.2 260,254.8 194.7,243.7" fill="url(#gPL)"/><path d="M221.8,200.2L202.9,245.1M229.7,200.8L211,246.5M237.5,201.3L219.2,247.9M245.3,201.9L227.3,249.2M253.1,202.5L235.5,250.6M261,203L243.7,252M268.8,203.6L251.8,253.4M211.6,205.1L274.5,210.5M209.2,210.6L272.5,216.8M206.8,216.1L270.4,223.2M204.3,221.6L268.3,229.5M201.9,227.2L266.2,235.8M199.5,232.7L264.1,242.2M197.1,238.2L262.1,248.5" fill="none" stroke="#adadb1" stroke-width="0.3"/>
<polygon points="488.9,257.7 560.6,267.8 559.2,331.3 481.9,318.4" fill="url(#gPR)"/><path d="M497.9,259L491.6,320M506.8,260.2L501.2,321.6M515.8,261.5L510.9,323.2M524.8,262.8L520.5,324.9M533.7,264L530.2,326.5M542.7,265.3L539.9,328.1M551.6,266.5L549.5,329.7M488,265.3L560.4,275.7M487.1,272.9L560.2,283.7M486.3,280.5L560.1,291.6M485.4,288L559.9,299.6M484.5,295.6L559.7,307.5M483.6,303.2L559.6,315.4M482.8,310.8L559.4,323.4" fill="none" stroke="#ababaf" stroke-width="0.3"/>
<polygon points="320.2,332 403.9,357.8 379,420.4 288.9,391.9" fill="url(#gPB)"/><path d="M330.7,335.2L300.2,395.5M341.1,338.4L311.4,399M351.6,341.7L322.7,402.6M362,344.9L333.9,406.1M372.5,348.1L345.2,409.7M383,351.4L356.5,413.3M393.4,354.6L367.7,416.8M316.3,339.5L400.8,365.6M312.4,347L397.7,373.4M308.5,354.5L394.6,381.3M304.5,361.9L391.4,389.1M300.6,369.4L388.3,396.9M296.7,376.9L385.2,404.8M292.8,384.4L382.1,412.6" fill="none" stroke="#a6a6aa" stroke-width="0.3"/>
<polygon points="245.5,222.3 244,225 105.9,340 94.3,327.6" fill="url(#gBeam1)"/>
<polyline points="297.6,150.4 310,166" fill="none" stroke="#96259f" stroke-width="1.1"/>
<polyline points="331,175 391,152.6" fill="none" stroke="#96259f" stroke-width="1.1"/>
<polyline points="311.5,182 252.7,204.2" fill="none" stroke="#96259f" stroke-width="1.1"/>
<polyline points="447,349.5 357,392.8" fill="none" stroke="#96259f" stroke-width="1.1"/>
<polyline points="306.4,391.9 297.7,407.5 312.7,412.2 306.4,431" fill="none" stroke="#96259f" stroke-width="1.1"/>
<polyline points="318.3,392.8 334,398.3" fill="none" stroke="#96259f" stroke-width="1.1"/>
<polyline points="408,145 421,148.2" fill="none" stroke="#96259f" stroke-width="1.1"/>
<polyline points="424.6,134 427.4,128.2" fill="none" stroke="#96259f" stroke-width="1.1"/>
<polyline points="557,275.2 573.5,278.9 573.5,289.9 592.2,293" fill="none" stroke="#96259f" stroke-width="1.1"/>
<polyline points="261,215.2 394,165.6" fill="none" stroke="#f2b21f" stroke-width="1.4" stroke-linejoin="round"/>
<polyline points="402.4,169.3 493.5,265" fill="none" stroke="#f2b21f" stroke-width="1.4" stroke-linejoin="round"/>
<polyline points="253.6,224.4 325.7,328.4" fill="none" stroke="#f2b21f" stroke-width="1.4" stroke-linejoin="round"/>
<polyline points="249.6,274.6 334.3,241.1 350,228.3" fill="none" stroke="#f2b21f" stroke-width="1.4" stroke-linejoin="round"/>
<polyline points="258.5,286.6 359.9,243.4" fill="none" stroke="#f2b21f" stroke-width="1.4" stroke-linejoin="round"/>
<polyline points="362.2,248 303,271.8 337.5,319 340.4,322.5 340.4,328.4 335.8,339.4" fill="none" stroke="#f2b21f" stroke-width="1.4" stroke-linejoin="round"/>
<polyline points="286.3,339.5 385.8,293.6 394,264.2" fill="none" stroke="#f2b21f" stroke-width="1.4" stroke-linejoin="round"/>
<polyline points="336.7,338.5 492.6,271.5" fill="none" stroke="#f2b21f" stroke-width="1.4" stroke-linejoin="round"/>
<polyline points="469.6,232.9 435.5,248.5" fill="none" stroke="#f2b21f" stroke-width="1.4" stroke-linejoin="round"/>
<polyline points="378.4,240.2 480,208.6 520,192.3" fill="none" stroke="#3b7fd6" stroke-width="0.9"/>
<polyline points="540,184 646.5,139.6" fill="none" stroke="#3b7fd6" stroke-width="0.9"/>
<polyline points="366.5,248.1 370.1,256.1 330.4,273.1 336.1,281.6" fill="none" stroke="#2f74c9" stroke-width="1.1" stroke-linejoin="round"/>
<polyline points="368.6,248.4 372.1,256.9 343.1,269.4 348.6,277.1" fill="none" stroke="#2f74c9" stroke-width="1.1" stroke-linejoin="round"/>
<polyline points="370.6,248.4 374.2,257.5 355.8,266.4 359,272.8" fill="none" stroke="#2f74c9" stroke-width="1.1" stroke-linejoin="round"/>
<polyline points="372.7,248.1 376.3,258.1 367.7,263.4 370.9,267.4" fill="none" stroke="#2f74c9" stroke-width="1.1" stroke-linejoin="round"/>
<polyline points="374.8,247.5 378.7,258.5 376.6,259.4" fill="none" stroke="#2f74c9" stroke-width="1.1" stroke-linejoin="round"/>
<polyline points="376.6,246.6 380.8,258.2 378.7,259.2" fill="none" stroke="#2f74c9" stroke-width="1.1" stroke-linejoin="round"/>
<polyline points="378.4,245.5 385.5,254 391.5,254.5 394.5,258.5" fill="none" stroke="#2f74c9" stroke-width="1.1" stroke-linejoin="round"/>
<polyline points="379.6,244 385.5,252.2 415.3,241.1 421.3,247" fill="none" stroke="#2f74c9" stroke-width="1.1" stroke-linejoin="round"/>
<polyline points="403.4,266.4 404.9,270.4 399.7,272.8 401.6,279.1" fill="none" stroke="#2f74c9" stroke-width="1.1" stroke-linejoin="round"/>
<polyline points="407.1,265.6 412.7,267.4 418.3,273.4" fill="none" stroke="#2f74c9" stroke-width="1.1" stroke-linejoin="round"/>
<polyline points="429.5,256 437.7,264.2" fill="none" stroke="#2f74c9" stroke-width="1.1" stroke-linejoin="round"/>
<polyline points="359,229.9 364.7,237.3" fill="none" stroke="#2f74c9" stroke-width="1.1" stroke-linejoin="round"/>
<polyline points="355.5,226 355.5,218" fill="none" stroke="#222" stroke-width="0.7"/>
<polygon points="346.2,226.2 353.9,231.1 353.9,234.7 346.2,229.8" fill="#1b1b1e"/><polygon points="353.9,231.1 366.5,225.9 366.5,229.5 353.9,234.7" fill="#26262a"/><polygon points="346.2,226.2 358.8,221 366.5,225.9 353.9,231.1" fill="#34343a"/>
<polygon points="359,241.2 366.8,246.6 366.8,250.4 359,245.1" fill="#1b1b1e"/><polygon points="366.8,246.6 379.4,240.9 379.4,244.8 366.8,250.4" fill="#26262a"/><polygon points="359,241.2 371.6,235.6 379.4,240.9 366.8,246.6" fill="#34343a"/>
<polygon points="390,260.6 398,265.9 398,269.7 390,264.4" fill="#1b1b1e"/><polygon points="398,265.9 411,260.3 411,264.1 398,269.7" fill="#26262a"/><polygon points="390,260.6 403,255 411,260.3 398,265.9" fill="#34343a"/>
<polygon points="415.8,249.9 423.8,255.5 423.8,259.6 415.8,254" fill="#1b1b1e"/><polygon points="423.8,255.5 436.8,249.6 436.8,253.7 423.8,259.6" fill="#26262a"/><polygon points="415.8,249.9 428.8,244 436.8,249.6 423.8,255.5" fill="#34343a"/>
<path d="M351.5,214.5 Q355.5,210.5 360,212.6 M350.6,211.6 Q355.6,206.6 361.2,209.6 M352.6,217 Q355.6,214.4 358.8,215.6" fill="none" stroke="#2fbfe8" stroke-width="1.3" stroke-linecap="round"/>
<ellipse cx="344.5" cy="283.1" rx="2.1" ry="3.5" fill="#0c0c0e" transform="rotate(-12 344.5 283.1)"/>
<circle cx="343.3" cy="279.9" r="1.5" fill="#0c0c0e"/>
<polygon points="335.6,282.9 340.6,280.7 342.6,281.7 342.6,288.9 337.6,291.3 335.6,290.1" fill="#aeb3bc"/>
<polygon points="337.6,284 342.6,281.7 342.6,288.9 337.6,291.3" fill="#c9cdd4"/>
<polygon points="338.5,285.5 341.8,284 341.8,287.8 338.5,289.4" fill="#ffffff"/>
<ellipse cx="357.2" cy="278.7" rx="2.1" ry="3.5" fill="#0c0c0e" transform="rotate(-12 357.2 278.7)"/>
<circle cx="356" cy="275.5" r="1.5" fill="#0c0c0e"/>
<polygon points="348.3,278.5 353.3,276.3 355.3,277.3 355.3,284.5 350.3,286.9 348.3,285.7" fill="#aeb3bc"/>
<polygon points="350.3,279.6 355.3,277.3 355.3,284.5 350.3,286.9" fill="#c9cdd4"/>
<polygon points="351.2,281.1 354.5,279.6 354.5,283.4 351.2,285" fill="#ffffff"/>
<ellipse cx="367.9" cy="274.2" rx="2.1" ry="3.5" fill="#0c0c0e" transform="rotate(-12 367.9 274.2)"/>
<circle cx="366.7" cy="271" r="1.5" fill="#0c0c0e"/>
<polygon points="359,274 364,271.8 366,272.8 366,280 361,282.4 359,281.2" fill="#aeb3bc"/>
<polygon points="361,275.1 366,272.8 366,280 361,282.4" fill="#c9cdd4"/>
<polygon points="361.9,276.6 365.2,275.1 365.2,278.9 361.9,280.5" fill="#ffffff"/>
<ellipse cx="378.8" cy="269" rx="2.1" ry="3.5" fill="#0c0c0e" transform="rotate(-12 378.8 269)"/>
<circle cx="377.6" cy="265.8" r="1.5" fill="#0c0c0e"/>
<polygon points="369.9,268.8 374.9,266.6 376.9,267.6 376.9,274.8 371.9,277.2 369.9,276" fill="#aeb3bc"/>
<polygon points="371.9,269.9 376.9,267.6 376.9,274.8 371.9,277.2" fill="#c9cdd4"/>
<polygon points="372.8,271.4 376.1,269.9 376.1,273.7 372.8,275.3" fill="#ffffff"/>
<ellipse cx="410.1" cy="280.2" rx="2.1" ry="3.5" fill="#0c0c0e" transform="rotate(-12 410.1 280.2)"/>
<circle cx="408.9" cy="277" r="1.5" fill="#0c0c0e"/>
<polygon points="401.2,280 406.2,277.8 408.2,278.8 408.2,286 403.2,288.4 401.2,287.2" fill="#aeb3bc"/>
<polygon points="403.2,281.1 408.2,278.8 408.2,286 403.2,288.4" fill="#c9cdd4"/>
<polygon points="404.1,282.6 407.4,281.1 407.4,284.9 404.1,286.5" fill="#ffffff"/>
<ellipse cx="426.5" cy="275" rx="2.1" ry="3.5" fill="#0c0c0e" transform="rotate(-12 426.5 275)"/>
<circle cx="425.3" cy="271.8" r="1.5" fill="#0c0c0e"/>
<polygon points="417.6,274.8 422.6,272.6 424.6,273.6 424.6,280.8 419.6,283.2 417.6,282" fill="#aeb3bc"/>
<polygon points="419.6,275.9 424.6,273.6 424.6,280.8 419.6,283.2" fill="#c9cdd4"/>
<polygon points="420.5,277.4 423.8,275.9 423.8,279.7 420.5,281.3" fill="#ffffff"/>
<ellipse cx="445.4" cy="265.3" rx="2.1" ry="3.5" fill="#0c0c0e" transform="rotate(-12 445.4 265.3)"/>
<circle cx="444.2" cy="262.1" r="1.5" fill="#0c0c0e"/>
<polygon points="436.5,265.1 441.5,262.9 443.5,263.9 443.5,271.1 438.5,273.5 436.5,272.3" fill="#aeb3bc"/>
<polygon points="438.5,266.2 443.5,263.9 443.5,271.1 438.5,273.5" fill="#c9cdd4"/>
<polygon points="439.4,267.7 442.7,266.2 442.7,270 439.4,271.6" fill="#ffffff"/>
<polygon points="402.9,140.5 408.4,129.9 408,146.7 403.5,156.3" fill="#dbcabc"/>
<polygon points="389.2,138.6 402.9,140.5 403.5,156.3 389.6,153.8" fill="#ebdfd3"/>
<polygon points="389.2,138.6 396.6,126.8 408.4,129.9 402.9,140.5" fill="#f9f0e8"/>
<circle cx="392" cy="143.6" r="0.8" fill="#3a5fae"/>
<polygon points="421.7,134.7 423.4,133.4 440.5,137.4 439.5,138.4" fill="#e6e6e6"/>
<polygon points="421.7,134.7 439.5,138.4 439.1,152 421.7,148" fill="#cdcdcd" stroke="#b2b2b2" stroke-width="0.4"/>
<polygon points="428.1,149.8 429.8,146.6 431.6,150.3" fill="#dcb820"/>
<polyline points="403.5,166.2 424.6,170.9" fill="none" stroke="#2f74c9" stroke-width="1.2"/>
<polyline points="406.2,149.8 404.1,157.3" fill="none" stroke="#2f74c9" stroke-width="1.2"/>
<g transform="translate(423.8 165.5) scale(0.7 0.7)"><ellipse cx="0.5" cy="7.2" rx="4.2" ry="1.7" fill="#5e5e66" opacity=".45"/><path d="M-1.2,0 L-1.6,6.6 Q0.3,7.6 2.2,6.6 L1.8,0Z" fill="#b9c0cc"/><g transform="rotate(-42)"><rect x="-7" y="-5.4" width="13.5" height="6.2" rx="2.6" fill="#f2f4f7"/><rect x="-7" y="-1.6" width="13.5" height="2.4" rx="1.2" fill="#cfd3da"/><ellipse cx="6" cy="-2.3" rx="1.5" ry="3" fill="#cfd3da"/></g></g>
<path d="M398.7,146.8L405.5,148.5Q406.6,148.8 406.1,151.4L403.1,168Q402.6,170.6 401.5,170.3L394.6,168.1Q393.5,167.8 394,165.2L396.8,149.1Q397.3,146.5 398.4,146.8Z" fill="#08080a"/>
<polygon points="396,158 398.6,158.8 397.6,166.4 395,165.5" fill="#d9d9de"/>
<polygon points="203.4,225.3 210.5,210.4 211.8,211.3 208.6,239.6 205.5,239.6" fill="#f0e2d6"/>
<polygon points="210.5,210.4 211.8,211.3 208.6,239.6 207.8,239.1" fill="#d9c8ba"/>
<polyline points="214.2,222.2 217.3,214.2" fill="none" stroke="#96259f" stroke-width="1.2"/>
<polygon points="236.5,201.1 239.7,193.1 241.1,215.4 237.2,218.3" fill="#9c928b"/>
<polygon points="214.8,199.9 236.5,201.1 237.2,218.3 215.4,216" fill="#eee0d4"/>
<polygon points="214.8,199.9 219.2,190 239.7,193.1 236.5,201.1" fill="#faf1ea"/>
<polyline points="224.5,216 225,217.5 242.8,220.4" fill="none" stroke="#2f74c9" stroke-width="1.3"/>
<polyline points="250.2,224.1 244.6,240.9" fill="none" stroke="#2f74c9" stroke-width="1"/>
<g transform="translate(243 233.2) scale(0.8 0.8)"><ellipse cx="0.5" cy="7.2" rx="4.2" ry="1.7" fill="#5e5e66" opacity=".45"/><path d="M-1.2,0 L-1.6,6.6 Q0.3,7.6 2.2,6.6 L1.8,0Z" fill="#b9c0cc"/><g transform="rotate(-13)"><rect x="-7" y="-5.4" width="13.5" height="6.2" rx="2.6" fill="#f2f4f7"/><rect x="-7" y="-1.6" width="13.5" height="2.4" rx="1.2" fill="#cfd3da"/><ellipse cx="6" cy="-2.3" rx="1.5" ry="3" fill="#cfd3da"/></g></g>
<path d="M246.2,203.6L259.1,205.7Q261.2,206 260.9,208.1L258.8,221.7Q258.5,223.8 256.5,223.5L243.8,221.3Q241.8,221 242,218.9L243.3,205.3Q243.5,203.2 245.6,203.5Z" fill="#08080a"/>
<polygon points="552.2,267.4 555.5,253.6 558,253 558.2,268.8 556.4,277.5 552.8,280.2" fill="#dccdc0"/>
<polygon points="555.5,253.6 558,253 558.2,268.8 556.4,277.5 555.8,267.4" fill="#efe3d9"/>
<polyline points="513,271.5 552.5,274.8" fill="none" stroke="#2562bd" stroke-width="1.1"/>
<polyline points="512.3,273.3 539.8,275.6 539.8,279" fill="none" stroke="#2562bd" stroke-width="1.1"/>
<polyline points="511.5,285.2 529.4,288.5" fill="none" stroke="#2562bd" stroke-width="1.1"/>
<polygon points="557.7,280.8 558.9,282.3 558.5,296.4 554,309.4" fill="#d6c4b6"/>
<polygon points="533.1,278.5 557.7,280.8 554,309.4 528.7,304.9" fill="url(#gInvR)"/>
<polygon points="491.7,305.8 507,307.6 506.6,312.4 491.4,310.6" fill="#e1e5ec"/>
<ellipse cx="495.4" cy="315.6" rx="3.6" ry="3.2" fill="#c2c7d4"/>
<ellipse cx="495.9" cy="315" rx="1.6" ry="1.4" fill="#8fa6d8"/>
<path d="M499.6,251.3L512.3,253.1Q514.3,253.3 513.5,259.5L508,298.7Q507.2,304.9 505,304.6L491.1,302.8Q488.9,302.5 489.8,296.3L496.1,257.1Q497.1,251 499.1,251.2Z" fill="#08080a"/>
<polyline points="324.1,350.4 312.8,376.5" fill="none" stroke="#2562bd" stroke-width="1.2"/>
<polyline points="327.6,351.3 316.3,377.7" fill="none" stroke="#2562bd" stroke-width="1.2"/>
<polyline points="317.7,380 334.5,385.7" fill="none" stroke="#2562bd" stroke-width="1.2"/>
<polyline points="332.8,348.7 345,351.6" fill="none" stroke="#2562bd" stroke-width="1.1"/>
<polyline points="345.8,357.4 345,362.6 348.5,363.5" fill="none" stroke="#2562bd" stroke-width="1"/>
<polyline points="357.1,356.5 366.7,358.6" fill="none" stroke="#2562bd" stroke-width="1"/>
<polyline points="379.7,363.1 389.3,365.5" fill="none" stroke="#2562bd" stroke-width="1"/>
<polygon points="320.5,347.1 335.6,350.6 338.1,365.6 325.5,360.1" fill="#2e2e34" opacity="0.4" filter="url(#blur1)"/>
<path d="M327.8,325.3L335.8,327.3Q337.2,327.6 337,330.4L335.8,347.8Q335.6,350.6 333.8,350.2L322.3,347.5Q320.5,347.1 321.2,344.5L325.5,327.5Q326.2,324.9 327.5,325.2Z" fill="#08080a"/>
<polygon points="343.1,354.1 356.8,357.6 359.3,372.6 348.1,367.1" fill="#2e2e34" opacity="0.4" filter="url(#blur1)"/>
<path d="M349.8,331.9L357.2,334.2Q358.4,334.6 358.2,337.4L357,354.8Q356.8,357.6 355.2,357.1L344.7,354.5Q343.1,354.1 343.7,351.4L347.7,334.2Q348.3,331.5 349.5,331.8Z" fill="#08080a"/>
<polygon points="365.7,360.3 379.1,363.6 381.6,378.6 370.7,373.3" fill="#2e2e34" opacity="0.4" filter="url(#blur1)"/>
<path d="M372,338.4L379.7,340.5Q381,340.9 380.7,343.6L379.3,360.9Q379.1,363.6 377.4,363.2L367.3,360.7Q365.7,360.3 366.2,357.6L369.8,340.6Q370.4,337.9 371.6,338.3Z" fill="#08080a"/>
<g transform="rotate(24 391.4 360.3)"><rect x="387.2" y="353.8" width="8.4" height="13" rx="3.4" fill="#b5b5c2"/><ellipse cx="391.4" cy="354.9" rx="4.2" ry="2.2" fill="#d4d4de"/></g>
<polygon points="293.3,371.8 295.4,370.4 318.9,377.7 316.8,379.1" fill="#f9f0e8"/>
<polygon points="293.3,371.8 316.8,379.1 317.2,394.4 294,387.5" fill="#f3e6db"/>
<polygon points="316.8,379.1 318.9,377.7 319.1,392.7 317.2,394.4" fill="#dbcabc"/>
<polygon points="357,375.3 361.1,370.1 360.6,391.6 356.3,405.2" fill="#e2d1c4"/>
<polygon points="335.1,371.3 357,375.3 356.3,405.2 334.4,399.1" fill="#f6ebe2"/>
<polygon points="335.1,371.3 340.3,365.5 361.1,370.1 357,375.3" fill="#fdf7f2"/>
<polygon points="309.1,157.4 315.7,164.5 315.7,185.6 310.1,178.5" fill="#e6d5c9"/>
<polygon points="315.7,164.5 331.9,158.8 331.9,178.5 315.7,185.6" fill="#f0e2d7"/>
<polygon points="309.1,157.4 324.2,151.8 331.9,158.8 315.7,164.5" fill="#f8eee6"/>
<polygon points="443.9,325 454.3,334.6 450.9,354.9 441,342.4" fill="#ead9cd"/>
<polygon points="454.3,334.6 472.1,324.5 469.3,345.3 450.9,354.9" fill="#f3e6dc"/>
<polygon points="443.9,325 462.2,315.8 472.1,324.5 454.3,334.6" fill="#f8eee6"/>
<polyline points="456.1,337.7 470.3,329.7" fill="none" stroke="#e2d2c6" stroke-width="0.7"/>
<polyline points="455.7,342.4 470,334.2" fill="none" stroke="#e2d2c6" stroke-width="0.7"/>
<polyline points="455.2,346.7 463,342.4" fill="none" stroke="#e2d2c6" stroke-width="0.7"/>
<path d="M475.6,386.4L505.6,337.1M489.1,404.1L509.3,341.9M507.4,394.6L514.2,339.3M494,377.7L510.6,334.7M475.6,386.4L491.1,397.9M489.1,404.1L478.6,381.5M475.6,386.4L489.1,404.1M478.6,381.5L493.2,391.7M491.1,397.9L481.6,376.5M478.6,381.5L491.1,397.9M481.6,376.5L495.2,385.5M493.2,391.7L484.6,371.6M481.6,376.5L493.2,391.7M484.6,371.6L497.2,379.2M495.2,385.5L487.6,366.7M484.6,371.6L495.2,385.5M487.6,366.7L499.2,373M497.2,379.2L490.6,361.7M487.6,366.7L497.2,379.2M490.6,361.7L501.2,366.8M499.2,373L493.6,356.8M490.6,361.7L499.2,373M493.6,356.8L503.2,360.6M501.2,366.8L496.6,351.9M493.6,356.8L501.2,366.8M496.6,351.9L505.3,354.3M503.2,360.6L499.6,347M496.6,351.9L503.2,360.6M499.6,347L507.3,348.1M505.3,354.3L502.6,342M499.6,347L505.3,354.3M502.6,342L509.3,341.9M507.3,348.1L505.6,337.1M502.6,342L507.3,348.1M489.1,404.1L508.1,389M507.4,394.6L491.1,397.9M489.1,404.1L507.4,394.6M491.1,397.9L508.8,383.5M508.1,389L493.2,391.7M491.1,397.9L508.1,389M493.2,391.7L509.4,378M508.8,383.5L495.2,385.5M493.2,391.7L508.8,383.5M495.2,385.5L510.1,372.5M509.4,378L497.2,379.2M495.2,385.5L509.4,378M497.2,379.2L510.8,366.9M510.1,372.5L499.2,373M497.2,379.2L510.1,372.5M499.2,373L511.5,361.4M510.8,366.9L501.2,366.8M499.2,373L510.8,366.9M501.2,366.8L512.2,355.9M511.5,361.4L503.2,360.6M501.2,366.8L511.5,361.4M503.2,360.6L512.9,350.4M512.2,355.9L505.3,354.3M503.2,360.6L512.2,355.9M505.3,354.3L513.5,344.8M512.9,350.4L507.3,348.1M505.3,354.3L512.9,350.4M507.3,348.1L514.2,339.3M513.5,344.8L509.3,341.9M507.3,348.1L513.5,344.8M507.4,394.6L495.7,373.4M494,377.7L508.1,389M507.4,394.6L494,377.7M508.1,389L497.3,369.1M495.7,373.4L508.8,383.5M508.1,389L495.7,373.4M508.8,383.5L499,364.8M497.3,369.1L509.4,378M508.8,383.5L497.3,369.1M509.4,378L500.6,360.5M499,364.8L510.1,372.5M509.4,378L499,364.8M510.1,372.5L502.3,356.2M500.6,360.5L510.8,366.9M510.1,372.5L500.6,360.5M510.8,366.9L504,351.9M502.3,356.2L511.5,361.4M510.8,366.9L502.3,356.2M511.5,361.4L505.6,347.6M504,351.9L512.2,355.9M511.5,361.4L504,351.9M512.2,355.9L507.3,343.3M505.6,347.6L512.9,350.4M512.2,355.9L505.6,347.6M512.9,350.4L508.9,339M507.3,343.3L513.5,344.8M512.9,350.4L507.3,343.3M513.5,344.8L510.6,334.7M508.9,339L514.2,339.3M513.5,344.8L508.9,339M494,377.7L478.6,381.5M475.6,386.4L495.7,373.4M494,377.7L475.6,386.4M495.7,373.4L481.6,376.5M478.6,381.5L497.3,369.1M495.7,373.4L478.6,381.5M497.3,369.1L484.6,371.6M481.6,376.5L499,364.8M497.3,369.1L481.6,376.5M499,364.8L487.6,366.7M484.6,371.6L500.6,360.5M499,364.8L484.6,371.6M500.6,360.5L490.6,361.7M487.6,366.7L502.3,356.2M500.6,360.5L487.6,366.7M502.3,356.2L493.6,356.8M490.6,361.7L504,351.9M502.3,356.2L490.6,361.7M504,351.9L496.6,351.9M493.6,356.8L505.6,347.6M504,351.9L493.6,356.8M505.6,347.6L499.6,347M496.6,351.9L507.3,343.3M505.6,347.6L496.6,351.9M507.3,343.3L502.6,342M499.6,347L508.9,339M507.3,343.3L499.6,347M508.9,339L505.6,337.1M502.6,342L510.6,334.7M508.9,339L502.6,342M505.6,337.1L516.2,315.4M509.3,341.9L517.6,317.1M514.2,339.3L519.4,316.2M510.6,334.7L518.1,314.5M505.6,337.1L510.9,336.9M509.3,341.9L507.7,332.7M505.6,337.1L509.3,341.9M507.7,332.7L512.6,332M510.9,336.9L509.9,328.4M507.7,332.7L510.9,336.9M509.9,328.4L514.3,327M512.6,332L512,324M509.9,328.4L512.6,332M512,324L515.9,322.1M514.3,327L514.1,319.7M512,324L514.3,327M514.1,319.7L517.6,317.1M515.9,322.1L516.2,315.4M514.1,319.7L515.9,322.1M509.3,341.9L515.3,334.7M514.2,339.3L510.9,336.9M509.3,341.9L514.2,339.3M510.9,336.9L516.3,330M515.3,334.7L512.6,332M510.9,336.9L515.3,334.7M512.6,332L517.3,325.4M516.3,330L514.3,327M512.6,332L516.3,330M514.3,327L518.4,320.8M517.3,325.4L515.9,322.1M514.3,327L517.3,325.4M515.9,322.1L519.4,316.2M518.4,320.8L517.6,317.1M515.9,322.1L518.4,320.8M514.2,339.3L512.1,330.7M510.6,334.7L515.3,334.7M514.2,339.3L510.6,334.7M515.3,334.7L513.6,326.6M512.1,330.7L516.3,330M515.3,334.7L512.1,330.7M516.3,330L515.1,322.6M513.6,326.6L517.3,325.4M516.3,330L513.6,326.6M517.3,325.4L516.6,318.5M515.1,322.6L518.4,320.8M517.3,325.4L515.1,322.6M518.4,320.8L518.1,314.5M516.6,318.5L519.4,316.2M518.4,320.8L516.6,318.5M510.6,334.7L507.7,332.7M505.6,337.1L512.1,330.7M510.6,334.7L505.6,337.1M512.1,330.7L509.9,328.4M507.7,332.7L513.6,326.6M512.1,330.7L507.7,332.7M513.6,326.6L512,324M509.9,328.4L515.1,322.6M513.6,326.6L509.9,328.4M515.1,322.6L514.1,319.7M512,324L516.6,318.5M515.1,322.6L512,324M516.6,318.5L516.2,315.4M514.1,319.7L518.1,314.5M516.6,318.5L514.1,319.7M490,334.2L528.3,316.8M490,334.2L509.1,323.5L528.3,316.8M490,334.2L509.1,327.1L528.3,316.8M495.7,331L495.7,332.1M501.5,327.8L501.5,330M516.8,320.8L516.8,323M522.5,318.8L522.5,319.9M486.5,341.9L527.4,323.3M486.5,341.9L507,330.6L527.4,323.3M486.5,341.9L507,334.2L527.4,323.3M492.7,338.5L492.7,339.6M498.8,335.1L498.8,337.2M515.1,327.6L515.1,329.8M521.3,325.5L521.3,326.5M486,348.5L524.8,330.7M486,348.5L505.4,337.6L524.8,330.7M486,348.5L505.4,341.2L524.8,330.7M491.8,345.2L491.8,346.3M497.6,342L497.6,344.1M513.1,334.9L513.1,337M519,332.8L519,333.9M490.9,352L520.4,338.9M490.9,352L505.7,343.4L520.4,338.9M490.9,352L505.7,347L520.4,338.9M495.3,349.4L495.3,350.5M499.7,346.8L499.7,349M511.6,341.6L511.6,343.8M516,340.3L516,341.3" fill="none" stroke="#5e6870" stroke-width="0.6" stroke-linecap="round"/><rect x="474.3" y="385.8" width="2.6" height="2.2" fill="#7e2222"/><rect x="487.8" y="403.5" width="2.6" height="2.2" fill="#7e2222"/><rect x="506.1" y="394" width="2.6" height="2.2" fill="#7e2222"/><rect x="492.7" y="377.1" width="2.6" height="2.2" fill="#7e2222"/>
<polyline points="540,306 469,339.6" fill="none" stroke="#96259f" stroke-width="1.1"/>
<polyline points="459,350.6 492,391" fill="none" stroke="#96259f" stroke-width="1.1"/>
<g transform="rotate(-18.4 226.2 285.5)"><rect x="198.7" y="280.2" width="55" height="10.6" rx="2.6" fill="#f2b21f"/><text x="220.2" y="288.9" font-size="9.8" fill="#fff" text-anchor="middle" textLength="30" lengthAdjust="spacingAndGlyphs" stroke="#fff" stroke-width=".3">PTS-10A</text></g>
<g transform="rotate(-18.4 234.6 300)"><rect x="206.6" y="294.7" width="56" height="10.6" rx="2.6" fill="#f2b21f"/><text x="234.6" y="303.4" font-size="9.8" fill="#fff" text-anchor="middle" textLength="44" lengthAdjust="spacingAndGlyphs" stroke="#fff" stroke-width=".3">SICOM 3024</text></g>
<g transform="rotate(-21 261 348.7)"><rect x="234" y="343.4" width="54" height="10.6" rx="2.6" fill="#f2b21f"/><text x="261" y="352.1" font-size="9.8" fill="#fff" text-anchor="middle" textLength="41.2" lengthAdjust="spacingAndGlyphs" stroke="#fff" stroke-width=".3">DG-A8/A16</text></g>
<g transform="rotate(-21.8 501.9 221.6)"><rect x="466.9" y="216.3" width="70" height="10.6" rx="2.6" fill="#f2b21f"/><text x="501.9" y="224.7" font-size="8.8" fill="#fff" text-anchor="middle" textLength="58" lengthAdjust="spacingAndGlyphs" stroke="#fff" stroke-width=".3">ACCS-8601云终端</text></g>
<text x="375.9" y="132.5" font-size="8.2" fill="#6a6a6e" text-anchor="middle">逆变器</text>
<text x="455" y="145.8" font-size="8.2" fill="#6a6a6e" text-anchor="middle">汇流箱</text>
<text x="451.3" y="178.5" font-size="8.2" fill="#6a6a6e" text-anchor="middle">摄像头</text>
<text x="529.8" y="204.2" font-size="8.2" fill="#6a6a6e" text-anchor="middle">路由器</text>
<text x="589" y="193.8" font-size="8.2" fill="#6a6a6e" text-anchor="middle">防火墙</text>
<text x="629" y="174.8" font-size="8.2" fill="#6a6a6e" text-anchor="middle">公网</text>
<text x="227.8" y="185" font-size="8.2" fill="#6a6a6e" text-anchor="middle">逆变器</text>
<text x="182.5" y="254" font-size="8.2" fill="#6a6a6e" text-anchor="middle">汇流箱</text>
<text x="239.8" y="264.7" font-size="8.2" fill="#6a6a6e" text-anchor="middle">摄像头</text>
<text x="573.5" y="262.6" font-size="8.2" fill="#6a6a6e" text-anchor="middle">汇流箱</text>
<text x="573.5" y="308" font-size="8.2" fill="#6a6a6e" text-anchor="middle">逆变器</text>
<text x="471.4" y="311" font-size="8.2" fill="#6a6a6e" text-anchor="middle">摄像头</text>
<text x="273.2" y="385.3" font-size="8.2" fill="#6a6a6e" text-anchor="middle">汇流箱</text>
<text x="406.3" y="350.7" font-size="8.2" fill="#6a6a6e" text-anchor="middle">摄像头</text>
<text x="335.8" y="420.6" font-size="8.2" fill="#6a6a6e" text-anchor="middle">逆变器</text>
<text x="445" y="373" font-size="8.2" fill="#6a6a6e" text-anchor="middle">升压变压器</text>
<text x="475" y="403.3" font-size="8.2" fill="#6a6a6e" text-anchor="middle">电网</text>
<text x="413.4" y="299.5" font-size="9.2" fill="#6a6a6e" text-anchor="middle" transform="rotate(-21 413.4 299.5)">主控室</text>
<text x="296.8" y="300" font-size="7.2" fill="#111" text-anchor="middle" transform="rotate(57 296.8 300)" textLength="51.6" lengthAdjust="spacingAndGlyphs" dominant-baseline="central">IEC62439-6 DRP</text>
<text x="517.4" y="267.6" font-size="6.3" fill="#fff" font-weight="bold" text-anchor="middle">KIEN7009</text>
<text x="516.5" y="280.7" font-size="6.3" fill="#fff" font-weight="bold" text-anchor="middle">KIEN7009</text>
<text x="509" y="298" font-size="6.3" fill="#fff" font-weight="bold" text-anchor="middle">DG-A4</text>
<text x="323" y="353.8" font-size="6.3" fill="#fff" font-weight="bold" text-anchor="middle">DG-A4</text>
<text x="345" y="360.3" font-size="6.3" fill="#fff" font-weight="bold" text-anchor="middle">KIEN7009</text>
<text x="369.3" y="366.4" font-size="6.3" fill="#fff" font-weight="bold" text-anchor="middle">KIEN7009</text>
<text x="202.3" y="139.9" font-size="16.4" fill="#6c6c70" font-weight="bold" text-anchor="middle" transform="rotate(26.3 202.3 139.9)" letter-spacing="1.5" stroke="#6c6c70" stroke-width=".3">光电池阵列</text>
<text x="542.5" y="143.9" font-size="12.4" fill="#6c6c70" font-weight="bold" text-anchor="middle" transform="rotate(-33.3 542.5 143.9)" letter-spacing="1.2" stroke="#6c6c70" stroke-width=".3">光电池阵列</text>
<text x="621.2" y="431.3" font-size="23.5" fill="#6c6c70" font-weight="bold" text-anchor="middle" transform="rotate(28.8 621.2 431.3)" letter-spacing="2.2" stroke="#6c6c70" stroke-width=".3">光电池阵列</text>
<text x="153.1" y="414.9" font-size="21" fill="#6c6c70" font-weight="bold" text-anchor="middle" transform="rotate(-34 153.1 414.9)" letter-spacing="2" stroke="#6c6c70" stroke-width=".3">光电池阵列</text>
<polygon points="512.5,191.8 544.2,191.8 544,193.7 512.7,193.7" fill="#aeaeb2"/>
<polygon points="513.6,178.9 542.7,178.9 544.7,188.4 511.9,188.4" fill="url(#gRt2)"/>
<polygon points="517.5,179.4 539.1,179.4 539.5,180.3 517.2,180.3" fill="#d2d2d5"/>
<polygon points="518.9,180.3 537,180.3 537.2,182.7 518.6,182.7" fill="#a0a0a4"/>
<polyline points="519.2,181.5 536.8,181.5" fill="none" stroke="#c4c4c8" stroke-width="1.6" stroke-dasharray="0.7 0.7"/>
<rect x="511.9" y="188.4" width="32.8" height="3.7" rx="0.7" fill="#0b0b0d"/>
<polyline points="514,190.5 517.1,190.5" fill="none" stroke="#8fd8f4" stroke-width="0.8" stroke-dasharray="1.1 0.8"/>
<polyline points="532.1,190.5 542.4,190.5" fill="none" stroke="#8fd8f4" stroke-width="0.8" stroke-dasharray="1.1 0.9"/>
<polygon points="570.4,134.5 572.6,133.2 596.2,157.2 594,158.8" fill="#c9cbd0"/>
<polygon points="594,158.8 596.2,157.2 595.4,180.2 593.2,182" fill="#9b9da3"/>
<polygon points="570.4,134.5 594,158.8 593.2,182 570.4,159.2" fill="#d8763a"/>
<path d="M570.4,138L593.9,162.1M570.4,141.6L593.8,165.4M570.4,145.1L593.7,168.7M570.4,148.6L593.5,172.1M570.4,152.1L593.4,175.4M570.4,155.7L593.3,178.7M574.3,138.6L574.2,163M578.3,142.6L578,166.8M582.2,146.7L581.8,170.6M586.1,150.7L585.6,174.4M590.1,154.8L589.4,178.2" fill="none" stroke="#f2c7a2" stroke-width="0.5"/>
<path d="M576.8,174C575.7,173.5 571.8,172.7 570.1,171.4 C568.4,170 567.1,167.8 566.8,165.9 C566.6,164 568,160.4 568.6,159.9 C569.2,159.4 569.7,163.4 570.4,162.8 C571.2,162.2 571.6,158.5 573.1,156.3 C574.6,154.1 578.3,150 579.4,149.9 C580.6,149.7 579.4,153.6 580.1,155.4 C580.9,157.2 583,159.5 583.9,160.6 C584.8,161.7 585,161 585.5,162.2 C586,163.3 587,165.8 586.8,167.6 C586.5,169.3 585.8,171.6 584.2,172.6 C582.5,173.7 578.1,173.8 576.8,174Z" fill="url(#gFl2)"/>
<path d="M576.8,173.5C576,173.1 573.1,172.3 572,171.2 C570.8,170 570,168 570,166.7 C569.9,165.3 571.2,163.3 571.8,163.1 C572.3,162.8 572.4,166 573.1,165.1 C573.8,164.2 574.8,159.5 575.8,157.6 C576.8,155.8 578.4,153.9 579.1,154.3 C579.7,154.6 579.1,158.2 579.8,159.9 C580.4,161.6 582.3,162.7 583,164.2 C583.8,165.6 584.4,167.3 584.3,168.7 C584.1,170.1 583.4,171.7 582.1,172.5 C580.9,173.3 577.7,173.4 576.8,173.5Z" fill="url(#gFl3)"/>
<path d="M577,173.3C576.6,172.9 575.1,172.1 574.7,171.2 C574.3,170.2 574.2,168.9 574.5,167.8 C574.8,166.6 575.9,164.2 576.5,164.2 C577.1,164.1 577.6,166.5 578.1,167.6 C578.5,168.6 579.3,169.6 579.3,170.5 C579.4,171.4 578.8,172.4 578.4,172.9 C578,173.3 577.2,173.2 577,173.3Z" fill="#fffbe0"/>
<path d="M606.1,133.2C606.4,132.7 607.3,130.8 608,130.2 C608.8,129.5 610,129.2 610.6,129.2 C611.3,129.1 611.5,130.3 612,129.9 C612.5,129.6 613,127.9 613.7,127.2 C614.3,126.6 615.1,126.1 615.9,126.2 C616.7,126.3 618,127 618.6,127.7 C619.3,128.4 619.6,129.5 620,130.6 C620.4,131.7 620.5,133.4 621.1,134.2 C621.7,135 622.9,134.6 623.8,135.6 C624.7,136.5 625.9,138.5 626.7,140.1 C627.5,141.7 627.9,143.4 628.5,145 C629.2,146.7 629.9,148.4 630.5,150.1 C631,151.8 631.7,153.5 631.8,154.9 C631.9,156.4 631.7,157.7 631.1,158.5 C630.6,159.4 629.8,160.2 628.7,160 C627.5,159.8 626.1,158.8 624.5,157.4 C622.9,156.1 620.8,153.7 619.1,152 C617.4,150.4 615.8,149 614.3,147.5 C612.8,146 611.2,144.5 610.1,143 C608.9,141.5 607.9,140.1 607.3,138.5 C606.6,136.9 606.3,134.1 606.1,133.2Z" fill="url(#gPc2)"/>
<polygon points="42.5,388.1 88.2,386 88.2,405 42.5,406.4" fill="url(#gRef)"/>
<polygon points="33.4,329.1 74.1,327.7 88.2,340.3 42.5,341.7" fill="#3b3e3b"/>
<polygon points="33.4,329.1 42.5,341.7 42.5,388.1 33.4,375.5" fill="#1c1d1c"/>
<polygon points="42.5,341.7 88.2,340.3 88.2,386 42.5,388.1" fill="#2a2c2a"/>
<rect x="58" y="360" width="3.5" height="26.3" fill="#1f7a35"/>
<rect x="59" y="360.9" width="1.3" height="24.6" fill="#3fb858" opacity=".75"/>
<rect x="58" y="372" width="3.5" height="2.3" fill="#156028"/>
<rect x="63.6" y="360" width="3.5" height="26.2" fill="#1f7a35"/>
<rect x="64.6" y="360.9" width="1.3" height="24.5" fill="#3fb858" opacity=".75"/>
<rect x="63.6" y="372" width="3.5" height="2.3" fill="#156028"/>
<rect x="69.2" y="350.2" width="3.9" height="35.4" fill="#1f7a35"/>
<rect x="70.2" y="351" width="1.7" height="33.8" fill="#3fb858" opacity=".75"/>
<rect x="69.2" y="366.8" width="3.9" height="2.3" fill="#156028"/>
<rect x="78.4" y="349.5" width="3.9" height="35.6" fill="#1f7a35"/>
<rect x="79.4" y="350.3" width="1.7" height="33.9" fill="#3fb858" opacity=".75"/>
<rect x="78.4" y="366.1" width="3.9" height="2.3" fill="#156028"/>
<rect x="45.7" y="369.9" width="9.4" height="17.2" fill="#b4b8b4"/>
<rect x="46.6" y="371" width="3.5" height="4.2" fill="#3a3d3a"/>
<rect x="47.3" y="371.5" width="2.1" height="2" fill="#8e938e"/>
<rect x="50.9" y="371" width="3.5" height="4.2" fill="#3a3d3a"/>
<rect x="51.6" y="371.5" width="2.1" height="2" fill="#8e938e"/>
<rect x="46.6" y="376.3" width="3.5" height="4.2" fill="#3a3d3a"/>
<rect x="47.3" y="376.9" width="2.1" height="2" fill="#8e938e"/>
<rect x="50.9" y="376.3" width="3.5" height="4.2" fill="#3a3d3a"/>
<rect x="51.6" y="376.9" width="2.1" height="2" fill="#8e938e"/>
<rect x="46.6" y="381.7" width="3.5" height="4.2" fill="#3a3d3a"/>
<rect x="47.3" y="382.2" width="2.1" height="2" fill="#8e938e"/>
<rect x="50.9" y="381.7" width="3.5" height="4.2" fill="#3a3d3a"/>
<rect x="51.6" y="382.2" width="2.1" height="2" fill="#8e938e"/>
<rect x="46" y="353.7" width="3.9" height="4.9" fill="#8b8f8b"/>
<rect x="46.7" y="354.5" width="2.5" height="3.2" fill="#2a2c2a"/>
<rect x="46" y="362.1" width="3.9" height="4.9" fill="#8b8f8b"/>
<rect x="46.7" y="363" width="2.5" height="3.2" fill="#2a2c2a"/>
<rect x="46" y="350.3" width="7.2" height="1.4" fill="#c9961e"/>
<rect x="69.5" y="344.1" width="0.7" height="0.7" fill="#a8841e"/>
<rect x="71.3" y="344.1" width="0.7" height="0.7" fill="#a8841e"/>
<rect x="73.2" y="344.1" width="0.7" height="0.7" fill="#a8841e"/>
<rect x="75" y="344.1" width="0.7" height="0.7" fill="#a8841e"/>
<rect x="69.5" y="345.8" width="0.7" height="0.7" fill="#a8841e"/>
<rect x="71.3" y="345.8" width="0.7" height="0.7" fill="#a8841e"/>
<rect x="73.2" y="345.8" width="0.7" height="0.7" fill="#a8841e"/>
<rect x="75" y="345.8" width="0.7" height="0.7" fill="#a8841e"/>
<rect x="69.5" y="347.5" width="0.7" height="0.7" fill="#a8841e"/>
<rect x="71.3" y="347.5" width="0.7" height="0.7" fill="#a8841e"/>
<rect x="73.2" y="347.5" width="0.7" height="0.7" fill="#a8841e"/>
<rect x="75" y="347.5" width="0.7" height="0.7" fill="#a8841e"/>
<rect x="80.1" y="344.1" width="0.7" height="0.7" fill="#a8841e"/>
<rect x="81.9" y="344.1" width="0.7" height="0.7" fill="#a8841e"/>
<rect x="83.7" y="344.1" width="0.7" height="0.7" fill="#a8841e"/>
<rect x="85.5" y="344.1" width="0.7" height="0.7" fill="#a8841e"/>
<rect x="80.1" y="345.8" width="0.7" height="0.7" fill="#a8841e"/>
<rect x="81.9" y="345.8" width="0.7" height="0.7" fill="#a8841e"/>
<rect x="83.7" y="345.8" width="0.7" height="0.7" fill="#a8841e"/>
<rect x="85.5" y="345.8" width="0.7" height="0.7" fill="#a8841e"/>
<rect x="80.1" y="347.5" width="0.7" height="0.7" fill="#a8841e"/>
<rect x="81.9" y="347.5" width="0.7" height="0.7" fill="#a8841e"/>
<rect x="83.7" y="347.5" width="0.7" height="0.7" fill="#a8841e"/>
<rect x="85.5" y="347.5" width="0.7" height="0.7" fill="#a8841e"/>
<rect x="58.7" y="351.8" width="0.7" height="0.7" fill="#7a641e"/>
<rect x="60.4" y="351.8" width="0.7" height="0.7" fill="#7a641e"/>
<rect x="58.7" y="353.8" width="0.7" height="0.7" fill="#7a641e"/>
<rect x="60.4" y="353.8" width="0.7" height="0.7" fill="#7a641e"/>
<rect x="58.7" y="355.8" width="0.7" height="0.7" fill="#7a641e"/>
<rect x="60.4" y="355.8" width="0.7" height="0.7" fill="#7a641e"/>
<rect x="64.3" y="351.8" width="0.7" height="0.7" fill="#7a641e"/>
<rect x="66" y="351.8" width="0.7" height="0.7" fill="#7a641e"/>
<rect x="64.3" y="353.8" width="0.7" height="0.7" fill="#7a641e"/>
<rect x="66" y="353.8" width="0.7" height="0.7" fill="#7a641e"/>
<rect x="64.3" y="355.8" width="0.7" height="0.7" fill="#7a641e"/>
<rect x="66" y="355.8" width="0.7" height="0.7" fill="#7a641e"/>
<polygon points="43.2,337.2 47.6,336.8 48.1,338.6 43.8,339.1" fill="#e6eae6"/>
<polygon points="52.1,333.3 56.3,332.4 61.1,337.5 56.8,338.5" fill="#dfe3df"/>
<polygon points="62.2,330.2 67.1,329.1 68.5,332.2 63.6,333.4" fill="#35a24a"/>
<rect x="38" y="329.1" width="2.8" height="1.7" fill="#d8dcd8"/>
<rect x="8" y="396.5" width="105" height="16" fill="url(#gFade)"/>
<text x="62.1" y="410.9" font-size="9.2" fill="#8c8c90" text-anchor="middle" textLength="64.8" lengthAdjust="spacingAndGlyphs">DGCOM-3000</text>
<text x="58.8" y="421.5" font-size="8.3" fill="#707074" text-anchor="middle">通讯网关一体机</text>
<polygon points="536.9,446.9 603.2,443.7 607.4,457.8 548.6,458.6" fill="#d0d0cc"/>
<polygon points="536.9,446.9 548.6,458.6 551,574.1 539.4,562.9" fill="url(#gCabS)"/>
<polygon points="548.6,458.6 607.4,457.8 606.9,565.4 551,574.1" fill="url(#gCab)"/>
<polygon points="551.8,462.3 605.7,460.3 605.7,562.9 553.5,571.6" fill="#1d1d1f"/>
<polygon points="551.8,462.3 605.7,460.3 605.7,518.2 553,520.7" fill="#77777a"/>
<polygon points="551.8,462.3 605.7,460.3 605.7,464.3 551.8,466.3" fill="#3a3a3c"/>
<polygon points="590.3,460.8 605.7,460.3 605.7,549.7 594.5,551.7 590.3,544.3" fill="#a9a9ab"/>
<polyline points="594.5,461.3 594.5,550.7" fill="none" stroke="#7a7a7c" stroke-width="1" stroke-dasharray="0.9 0.9"/>
<polyline points="600.7,460.8 600.7,549.7" fill="none" stroke="#8a8a8c" stroke-width="0.8" stroke-dasharray="0.9 0.9"/>
<polygon points="557.2,472.7 573.4,472 573.4,486.7 557.2,487.6" fill="#d9ccb8"/>
<polygon points="568.9,472.2 587.5,471.3 587.5,483.7 568.9,484.7" fill="#202022"/>
<polygon points="583.3,480.4 589.5,479.9 589.5,483.7 583.3,484.2" fill="#e8e4e0"/>
<polygon points="552.3,482.2 558.5,481.9 558.5,488.4 552.3,488.6" fill="#bdbdb9"/>
<polygon points="552.3,491.6 590.3,489.1 590.3,492.6 552.3,495.3" fill="#2a2a2c"/>
<polygon points="559.7,494.1 563.5,493.9 563.5,498.6 559.7,498.8" fill="#4a4a4c"/>
<polygon points="569.7,493.4 573.4,493.1 573.4,497.6 569.7,497.8" fill="#4a4a4c"/>
<polygon points="552.3,500.1 590.3,497.6 590.3,500.1 552.3,502.5" fill="#555558"/>
<polygon points="558.5,505.5 580.1,504 580.1,510.5 558.5,512.2" fill="#d8d6d0"/>
<polygon points="554.8,520.2 588.5,518.2 588.5,537.3 554.8,539.8" fill="#2b2b2d"/>
<polyline points="557.2,522.4 582.1,520.9" fill="none" stroke="#c89a2a" stroke-width="0.9" stroke-dasharray="2.2 1.6"/>
<polygon points="553.5,543.5 594.5,541.3 594.5,551.7 605.7,549.7 605.7,562.9 553.5,571.6" fill="#161618"/>
<text x="510.2" y="448" font-size="13" fill="#111" font-weight="bold" text-anchor="middle">汇控柜</text>
<text x="528.8" y="473.6" font-size="9.6" fill="#222" text-anchor="end">视频数据交换</text>
<text x="528.8" y="496.3" font-size="9.6" fill="#222" text-anchor="end">数据通讯网关</text>
<text x="528.8" y="519.9" font-size="9.6" fill="#222" text-anchor="end">串行通讯防雷器</text>
<text x="528.8" y="542.5" font-size="9.6" fill="#222" text-anchor="end">光纤配线盒</text>
<polyline points="472,479.7 530,479.7 572,480" fill="none" stroke="#f2b21f" stroke-width="1.3"/>
<polyline points="472,500.8 530,500.8 587,482.2" fill="none" stroke="#f2b21f" stroke-width="1.3"/>
<polyline points="463,524 530,523.2 548,505 557.2,499.6" fill="none" stroke="#f2b21f" stroke-width="1.3"/>
<polyline points="481,547 530,546.7 558.5,534.3" fill="none" stroke="#f2b21f" stroke-width="1.3"/>
</g>
<use href="#main" transform="translate(749.1 229) scale(0.193)"/>
<use href="#main" transform="translate(903.1 202.7) scale(0.138)"/>
<use href="#main" transform="translate(992 141.4) scale(0.104)"/>
<g id="cloud">
<use href="#cloudp" fill="none" stroke="#8ed060" stroke-width="7" opacity=".55" filter="url(#blur3)" transform="translate(2.5 4)"/>
<use href="#cloudp" fill="#fff" stroke="#7cc35a" stroke-width="2.4" stroke-linejoin="miter"/>
<text x="814.8" y="72.2" font-size="21.3" fill="#58585c" text-anchor="middle" textLength="120.5" lengthAdjust="spacingAndGlyphs">eOpenCloud</text>
<text x="814" y="93.2" font-size="18.3" fill="#58585c" font-weight="bold" text-anchor="middle">新能源云服务平台</text>
<circle cx="677.4" cy="116.1" r="2.3" fill="#7cc35a"/>
<text x="683.5" y="121.9" font-size="10.3" fill="#1a1a1a" font-weight="bold">云端设备</text>
<text x="683.5" y="134.6" font-size="10.3" fill="#1a1a1a" font-weight="bold">诊断配置</text>
<circle cx="751.3" cy="116.1" r="2.3" fill="#7cc35a"/>
<text x="758.4" y="121.9" font-size="10.3" fill="#1a1a1a" font-weight="bold">云端数据</text>
<text x="758.4" y="134.6" font-size="10.3" fill="#1a1a1a" font-weight="bold"><tspan textLength="31" lengthAdjust="spacingAndGlyphs">SCADA</tspan>服务</text>
<circle cx="825.2" cy="116.1" r="2.3" fill="#7cc35a"/>
<text x="830.2" y="121.9" font-size="10.3" fill="#1a1a1a" font-weight="bold">能耗能效分析</text>
<circle cx="899.5" cy="116.1" r="2.3" fill="#7cc35a"/>
<text x="904.5" y="121.9" font-size="10.3" fill="#1a1a1a" font-weight="bold">音/视频服务</text>
<circle cx="973.3" cy="116.1" r="2.3" fill="#7cc35a"/>
<text x="978.4" y="121.9" font-size="10.3" fill="#1a1a1a" font-weight="bold">能源生产及</text>
<text x="978.4" y="134.6" font-size="10.3" fill="#1a1a1a" font-weight="bold">负荷统计预测</text>
<circle cx="677.4" cy="159.1" r="2.3" fill="#7cc35a"/>
<text x="683.5" y="164.9" font-size="10.3" fill="#1a1a1a" font-weight="bold">移动终端数</text>
<text x="683.5" y="177.6" font-size="10.3" fill="#1a1a1a" font-weight="bold">据推送服务</text>
<circle cx="751.3" cy="159.1" r="2.3" fill="#7cc35a"/>
<text x="756" y="164.9" font-size="10.3" fill="#1a1a1a" font-weight="bold">地理信息服务</text>
<circle cx="825.2" cy="159.1" r="2.3" fill="#7cc35a"/>
<text x="830.2" y="164.9" font-size="10.3" fill="#1a1a1a" font-weight="bold">设备资产管理</text>
<circle cx="899.5" cy="159.1" r="2.3" fill="#7cc35a"/>
<text x="904.5" y="164.9" font-size="10.3" fill="#1a1a1a" font-weight="bold">检修管理</text>
<circle cx="973.3" cy="159.1" r="2.3" fill="#7cc35a"/>
<text x="978.4" y="164.9" font-size="10.3" fill="#1a1a1a" font-weight="bold">实时气象服务</text>
</g>
</svg>
</body>
</html>
